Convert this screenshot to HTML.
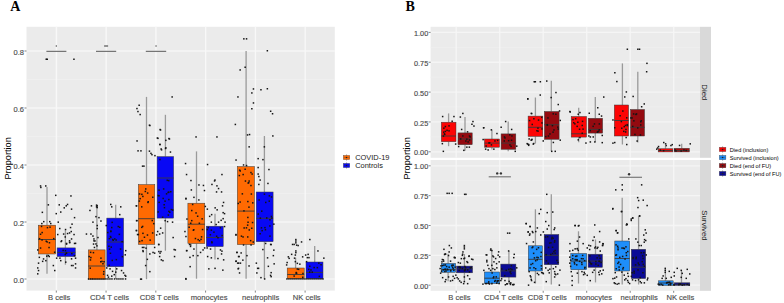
<!DOCTYPE html>
<html><head><meta charset="utf-8"><style>
html,body{margin:0;padding:0;background:#fff;width:784px;height:303px;overflow:hidden;}
svg{display:block;}
</style></head><body><svg width="784" height="303" viewBox="0 0 784 303"><rect x="26.5" y="26.8" width="308.30" height="263.80" fill="#EBEBEB"/><line x1="26.5" x2="334.8" y1="250.50" y2="250.50" stroke="#F2F2F2" stroke-width="0.6"/><line x1="26.5" x2="334.8" y1="193.50" y2="193.50" stroke="#F2F2F2" stroke-width="0.6"/><line x1="26.5" x2="334.8" y1="136.50" y2="136.50" stroke="#F2F2F2" stroke-width="0.6"/><line x1="26.5" x2="334.8" y1="79.50" y2="79.50" stroke="#F2F2F2" stroke-width="0.6"/><line x1="26.5" x2="334.8" y1="279.00" y2="279.00" stroke="#FFFFFF" stroke-width="0.8"/><line x1="26.5" x2="334.8" y1="222.00" y2="222.00" stroke="#FFFFFF" stroke-width="0.8"/><line x1="26.5" x2="334.8" y1="165.00" y2="165.00" stroke="#FFFFFF" stroke-width="0.8"/><line x1="26.5" x2="334.8" y1="108.00" y2="108.00" stroke="#FFFFFF" stroke-width="0.8"/><line x1="26.5" x2="334.8" y1="51.00" y2="51.00" stroke="#FFFFFF" stroke-width="0.8"/><line x1="56.40" x2="56.40" y1="26.8" y2="290.6" stroke="#F8F8F8" stroke-width="1.4"/><line x1="106.16" x2="106.16" y1="26.8" y2="290.6" stroke="#F8F8F8" stroke-width="1.4"/><line x1="155.92" x2="155.92" y1="26.8" y2="290.6" stroke="#F8F8F8" stroke-width="1.4"/><line x1="205.68" x2="205.68" y1="26.8" y2="290.6" stroke="#F8F8F8" stroke-width="1.4"/><line x1="255.44" x2="255.44" y1="26.8" y2="290.6" stroke="#F8F8F8" stroke-width="1.4"/><line x1="305.20" x2="305.20" y1="26.8" y2="290.6" stroke="#F8F8F8" stroke-width="1.4"/><line x1="47.00" x2="47.00" y1="186.90" y2="225.20" stroke="#9A9A9A" stroke-width="1.3"/><line x1="47.00" x2="47.00" y1="254.00" y2="273.80" stroke="#9A9A9A" stroke-width="1.3"/><rect x="38.30" y="225.20" width="17.40" height="28.80" fill="#FF6A02" stroke="#3A3A3A" stroke-width="0.5"/><line x1="38.30" x2="55.70" y1="239.50" y2="239.50" stroke="#3A3A3A" stroke-width="0.9"/><line x1="65.40" x2="65.40" y1="230.30" y2="247.90" stroke="#9A9A9A" stroke-width="1.3"/><line x1="65.40" x2="65.40" y1="256.50" y2="264.70" stroke="#9A9A9A" stroke-width="1.3"/><rect x="57.10" y="247.90" width="18.20" height="8.60" fill="#0808F4" stroke="#3A3A3A" stroke-width="0.5"/><line x1="57.10" x2="75.30" y1="252.40" y2="252.40" stroke="#3A3A3A" stroke-width="0.9"/><line x1="96.90" x2="96.90" y1="204.80" y2="249.90" stroke="#9A9A9A" stroke-width="1.3"/><rect x="88.30" y="249.90" width="16.80" height="29.30" fill="#FF6A02" stroke="#3A3A3A" stroke-width="0.5"/><line x1="88.30" x2="105.10" y1="266.00" y2="266.00" stroke="#3A3A3A" stroke-width="0.9"/><line x1="115.70" x2="115.70" y1="204.80" y2="218.10" stroke="#9A9A9A" stroke-width="1.3"/><line x1="115.70" x2="115.70" y1="266.70" y2="279.00" stroke="#9A9A9A" stroke-width="1.3"/><rect x="106.80" y="218.10" width="16.80" height="48.60" fill="#0808F4" stroke="#3A3A3A" stroke-width="0.5"/><line x1="106.80" x2="123.60" y1="242.00" y2="242.00" stroke="#3A3A3A" stroke-width="0.9"/><line x1="146.50" x2="146.50" y1="96.90" y2="184.60" stroke="#9A9A9A" stroke-width="1.3"/><line x1="146.50" x2="146.50" y1="244.40" y2="279.20" stroke="#9A9A9A" stroke-width="1.3"/><rect x="138.30" y="184.60" width="16.50" height="59.80" fill="#FF6A02" stroke="#3A3A3A" stroke-width="0.5"/><line x1="138.30" x2="154.80" y1="218.70" y2="218.70" stroke="#3A3A3A" stroke-width="0.9"/><line x1="165.40" x2="165.40" y1="114.80" y2="156.60" stroke="#9A9A9A" stroke-width="1.3"/><line x1="165.40" x2="165.40" y1="218.10" y2="250.70" stroke="#9A9A9A" stroke-width="1.3"/><rect x="157.10" y="156.60" width="16.50" height="61.50" fill="#0808F4" stroke="#3A3A3A" stroke-width="0.5"/><line x1="157.10" x2="173.60" y1="178.00" y2="178.00" stroke="#3A3A3A" stroke-width="0.9"/><line x1="196.50" x2="196.50" y1="151.40" y2="203.20" stroke="#9A9A9A" stroke-width="1.3"/><line x1="196.50" x2="196.50" y1="243.50" y2="278.70" stroke="#9A9A9A" stroke-width="1.3"/><rect x="187.90" y="203.20" width="16.90" height="40.30" fill="#FF6A02" stroke="#3A3A3A" stroke-width="0.5"/><line x1="187.90" x2="204.80" y1="224.20" y2="224.20" stroke="#3A3A3A" stroke-width="0.9"/><line x1="215.00" x2="215.00" y1="213.70" y2="226.20" stroke="#9A9A9A" stroke-width="1.3"/><line x1="215.00" x2="215.00" y1="246.60" y2="259.40" stroke="#9A9A9A" stroke-width="1.3"/><rect x="206.30" y="226.20" width="16.90" height="20.40" fill="#0808F4" stroke="#3A3A3A" stroke-width="0.5"/><line x1="206.30" x2="223.20" y1="237.50" y2="237.50" stroke="#3A3A3A" stroke-width="0.9"/><line x1="246.10" x2="246.10" y1="51.10" y2="166.60" stroke="#9A9A9A" stroke-width="1.3"/><line x1="246.10" x2="246.10" y1="244.60" y2="278.70" stroke="#9A9A9A" stroke-width="1.3"/><rect x="237.30" y="166.60" width="17.10" height="78.00" fill="#FF6A02" stroke="#3A3A3A" stroke-width="0.5"/><line x1="237.30" x2="254.40" y1="211.10" y2="211.10" stroke="#3A3A3A" stroke-width="0.9"/><line x1="264.40" x2="264.40" y1="136.00" y2="192.00" stroke="#9A9A9A" stroke-width="1.3"/><line x1="264.40" x2="264.40" y1="241.70" y2="279.10" stroke="#9A9A9A" stroke-width="1.3"/><rect x="256.20" y="192.00" width="16.90" height="49.70" fill="#0808F4" stroke="#3A3A3A" stroke-width="0.5"/><line x1="256.20" x2="273.10" y1="218.30" y2="218.30" stroke="#3A3A3A" stroke-width="0.9"/><line x1="295.60" x2="295.60" y1="257.70" y2="268.00" stroke="#9A9A9A" stroke-width="1.3"/><line x1="295.60" x2="295.60" y1="278.70" y2="279.00" stroke="#9A9A9A" stroke-width="1.3"/><rect x="287.20" y="268.00" width="17.00" height="10.70" fill="#FF6A02" stroke="#3A3A3A" stroke-width="0.5"/><line x1="287.20" x2="304.20" y1="274.50" y2="274.50" stroke="#3A3A3A" stroke-width="0.9"/><line x1="314.70" x2="314.70" y1="246.10" y2="262.00" stroke="#9A9A9A" stroke-width="1.3"/><line x1="314.70" x2="314.70" y1="278.70" y2="279.00" stroke="#9A9A9A" stroke-width="1.3"/><rect x="306.00" y="262.00" width="17.00" height="16.70" fill="#0808F4" stroke="#3A3A3A" stroke-width="0.5"/><line x1="306.00" x2="323.00" y1="272.40" y2="272.40" stroke="#3A3A3A" stroke-width="0.9"/><line x1="46.4" x2="66.4" y1="51.3" y2="51.3" stroke="#555" stroke-width="1"/><line x1="96" x2="116.2" y1="51.3" y2="51.3" stroke="#555" stroke-width="1"/><line x1="145.8" x2="166.2" y1="51.3" y2="51.3" stroke="#555" stroke-width="1"/><rect x="55.7" y="45.2" width="1.3" height="1.6" fill="#777"/><rect x="104.1" y="45.1" width="4" height="1.8" fill="#888"/><rect x="155.4" y="45.2" width="1.3" height="1.6" fill="#777"/><line x1="24.5" x2="26.5" y1="279.00" y2="279.00" stroke="#333" stroke-width="0.6"/><text x="24" y="282.60" font-size="7.5" text-anchor="end" fill="#4D4D4D" stroke="#4D4D4D" stroke-width="0.15" font-family="Liberation Sans, sans-serif">0.0</text><line x1="24.5" x2="26.5" y1="222.00" y2="222.00" stroke="#333" stroke-width="0.6"/><text x="24" y="225.60" font-size="7.5" text-anchor="end" fill="#4D4D4D" stroke="#4D4D4D" stroke-width="0.15" font-family="Liberation Sans, sans-serif">0.2</text><line x1="24.5" x2="26.5" y1="165.00" y2="165.00" stroke="#333" stroke-width="0.6"/><text x="24" y="168.60" font-size="7.5" text-anchor="end" fill="#4D4D4D" stroke="#4D4D4D" stroke-width="0.15" font-family="Liberation Sans, sans-serif">0.4</text><line x1="24.5" x2="26.5" y1="108.00" y2="108.00" stroke="#333" stroke-width="0.6"/><text x="24" y="111.60" font-size="7.5" text-anchor="end" fill="#4D4D4D" stroke="#4D4D4D" stroke-width="0.15" font-family="Liberation Sans, sans-serif">0.6</text><line x1="24.5" x2="26.5" y1="51.00" y2="51.00" stroke="#333" stroke-width="0.6"/><text x="24" y="54.60" font-size="7.5" text-anchor="end" fill="#4D4D4D" stroke="#4D4D4D" stroke-width="0.15" font-family="Liberation Sans, sans-serif">0.8</text><line x1="56.30" x2="56.30" y1="290.6" y2="292.6" stroke="#333" stroke-width="0.6"/><text x="59.15" y="299.6" font-size="7.6" text-anchor="middle" fill="#4D4D4D" stroke="#4D4D4D" stroke-width="0.15" font-family="Liberation Sans, sans-serif">B cells</text><line x1="106.06" x2="106.06" y1="290.6" y2="292.6" stroke="#333" stroke-width="0.6"/><text x="109.55" y="299.6" font-size="7.6" text-anchor="middle" fill="#4D4D4D" stroke="#4D4D4D" stroke-width="0.15" font-family="Liberation Sans, sans-serif">CD4 T cells</text><line x1="155.82" x2="155.82" y1="290.6" y2="292.6" stroke="#333" stroke-width="0.6"/><text x="159.25" y="299.6" font-size="7.6" text-anchor="middle" fill="#4D4D4D" stroke="#4D4D4D" stroke-width="0.15" font-family="Liberation Sans, sans-serif">CD8 T cells</text><line x1="205.58" x2="205.58" y1="290.6" y2="292.6" stroke="#333" stroke-width="0.6"/><text x="209.10" y="299.6" font-size="7.6" text-anchor="middle" fill="#4D4D4D" stroke="#4D4D4D" stroke-width="0.15" font-family="Liberation Sans, sans-serif">monocytes</text><line x1="255.34" x2="255.34" y1="290.6" y2="292.6" stroke="#333" stroke-width="0.6"/><text x="260.65" y="299.6" font-size="7.6" text-anchor="middle" fill="#4D4D4D" stroke="#4D4D4D" stroke-width="0.15" font-family="Liberation Sans, sans-serif">neutrophils</text><line x1="305.10" x2="305.10" y1="290.6" y2="292.6" stroke="#333" stroke-width="0.6"/><text x="306.70" y="299.6" font-size="7.6" text-anchor="middle" fill="#4D4D4D" stroke="#4D4D4D" stroke-width="0.15" font-family="Liberation Sans, sans-serif">NK cells</text><text transform="translate(11.3,158.4) rotate(-90)" font-size="9.2" text-anchor="middle" fill="#000" font-family="Liberation Sans, sans-serif">Proportion</text><line x1="346.55" x2="346.55" y1="154.40" y2="160.60" stroke="#555" stroke-width="0.5"/><rect x="343.30" y="155.40" width="6.50" height="4.20" fill="#FF6A02" stroke="#444" stroke-width="0.35"/><line x1="343.80" x2="349.30" y1="157.50" y2="157.50" stroke="#333" stroke-width="0.4" stroke-opacity="0.6"/><circle cx="346.55" cy="157.50" r="0.8" fill="#222"/><line x1="346.55" x2="346.55" y1="162.40" y2="168.60" stroke="#555" stroke-width="0.5"/><rect x="343.30" y="163.40" width="6.50" height="4.20" fill="#0808F4" stroke="#444" stroke-width="0.35"/><line x1="343.80" x2="349.30" y1="165.50" y2="165.50" stroke="#333" stroke-width="0.4" stroke-opacity="0.6"/><circle cx="346.55" cy="165.50" r="0.8" fill="#222"/><text x="355.2" y="160" font-size="7.45" fill="#1A1A1A" font-family="Liberation Sans, sans-serif">COVID-19</text><text x="355.2" y="168" font-size="7.45" fill="#1A1A1A" font-family="Liberation Sans, sans-serif">Controls</text><rect x="430.6" y="26.8" width="269.40" height="131.00" fill="#EBEBEB"/><line x1="430.6" x2="700" y1="136.88" y2="136.88" stroke="#EFEFEF" stroke-width="0.8"/><line x1="430.6" x2="700" y1="107.03" y2="107.03" stroke="#EFEFEF" stroke-width="0.8"/><line x1="430.6" x2="700" y1="77.18" y2="77.18" stroke="#EFEFEF" stroke-width="0.8"/><line x1="430.6" x2="700" y1="47.33" y2="47.33" stroke="#EFEFEF" stroke-width="0.8"/><line x1="430.6" x2="700" y1="151.80" y2="151.80" stroke="#F5F5F5" stroke-width="1.3"/><line x1="430.6" x2="700" y1="121.95" y2="121.95" stroke="#F5F5F5" stroke-width="1.3"/><line x1="430.6" x2="700" y1="92.10" y2="92.10" stroke="#F5F5F5" stroke-width="1.3"/><line x1="430.6" x2="700" y1="62.25" y2="62.25" stroke="#F5F5F5" stroke-width="1.3"/><line x1="430.6" x2="700" y1="32.40" y2="32.40" stroke="#F5F5F5" stroke-width="1.3"/><line x1="456.20" x2="456.20" y1="26.8" y2="157.8" stroke="#F6F6F6" stroke-width="1.3"/><line x1="499.70" x2="499.70" y1="26.8" y2="157.8" stroke="#F6F6F6" stroke-width="1.3"/><line x1="543.20" x2="543.20" y1="26.8" y2="157.8" stroke="#F6F6F6" stroke-width="1.3"/><line x1="586.70" x2="586.70" y1="26.8" y2="157.8" stroke="#F6F6F6" stroke-width="1.3"/><line x1="630.20" x2="630.20" y1="26.8" y2="157.8" stroke="#F6F6F6" stroke-width="1.3"/><line x1="673.70" x2="673.70" y1="26.8" y2="157.8" stroke="#F6F6F6" stroke-width="1.3"/><rect x="700" y="26.8" width="11" height="131.00" fill="#D9D9D9"/><line x1="428.6" x2="430.6" y1="151.80" y2="151.80" stroke="#333" stroke-width="0.6"/><text x="428.20000000000005" y="155.40" font-size="7.3" text-anchor="end" fill="#4D4D4D" stroke="#4D4D4D" stroke-width="0.15" font-family="Liberation Sans, sans-serif">0.00</text><line x1="428.6" x2="430.6" y1="121.95" y2="121.95" stroke="#333" stroke-width="0.6"/><text x="428.20000000000005" y="125.55" font-size="7.3" text-anchor="end" fill="#4D4D4D" stroke="#4D4D4D" stroke-width="0.15" font-family="Liberation Sans, sans-serif">0.25</text><line x1="428.6" x2="430.6" y1="92.10" y2="92.10" stroke="#333" stroke-width="0.6"/><text x="428.20000000000005" y="95.70" font-size="7.3" text-anchor="end" fill="#4D4D4D" stroke="#4D4D4D" stroke-width="0.15" font-family="Liberation Sans, sans-serif">0.50</text><line x1="428.6" x2="430.6" y1="62.25" y2="62.25" stroke="#333" stroke-width="0.6"/><text x="428.20000000000005" y="65.85" font-size="7.3" text-anchor="end" fill="#4D4D4D" stroke="#4D4D4D" stroke-width="0.15" font-family="Liberation Sans, sans-serif">0.75</text><line x1="428.6" x2="430.6" y1="32.40" y2="32.40" stroke="#333" stroke-width="0.6"/><text x="428.20000000000005" y="36.00" font-size="7.3" text-anchor="end" fill="#4D4D4D" stroke="#4D4D4D" stroke-width="0.15" font-family="Liberation Sans, sans-serif">1.00</text><rect x="430.6" y="160.0" width="269.40" height="130.80" fill="#EBEBEB"/><line x1="430.6" x2="700" y1="270.27" y2="270.27" stroke="#EFEFEF" stroke-width="0.8"/><line x1="430.6" x2="700" y1="240.42" y2="240.42" stroke="#EFEFEF" stroke-width="0.8"/><line x1="430.6" x2="700" y1="210.57" y2="210.57" stroke="#EFEFEF" stroke-width="0.8"/><line x1="430.6" x2="700" y1="180.72" y2="180.72" stroke="#EFEFEF" stroke-width="0.8"/><line x1="430.6" x2="700" y1="285.20" y2="285.20" stroke="#F5F5F5" stroke-width="1.3"/><line x1="430.6" x2="700" y1="255.35" y2="255.35" stroke="#F5F5F5" stroke-width="1.3"/><line x1="430.6" x2="700" y1="225.50" y2="225.50" stroke="#F5F5F5" stroke-width="1.3"/><line x1="430.6" x2="700" y1="195.65" y2="195.65" stroke="#F5F5F5" stroke-width="1.3"/><line x1="430.6" x2="700" y1="165.80" y2="165.80" stroke="#F5F5F5" stroke-width="1.3"/><line x1="456.20" x2="456.20" y1="160.0" y2="290.8" stroke="#F6F6F6" stroke-width="1.3"/><line x1="499.70" x2="499.70" y1="160.0" y2="290.8" stroke="#F6F6F6" stroke-width="1.3"/><line x1="543.20" x2="543.20" y1="160.0" y2="290.8" stroke="#F6F6F6" stroke-width="1.3"/><line x1="586.70" x2="586.70" y1="160.0" y2="290.8" stroke="#F6F6F6" stroke-width="1.3"/><line x1="630.20" x2="630.20" y1="160.0" y2="290.8" stroke="#F6F6F6" stroke-width="1.3"/><line x1="673.70" x2="673.70" y1="160.0" y2="290.8" stroke="#F6F6F6" stroke-width="1.3"/><rect x="700" y="160.0" width="11" height="130.80" fill="#D9D9D9"/><line x1="428.6" x2="430.6" y1="285.20" y2="285.20" stroke="#333" stroke-width="0.6"/><text x="428.20000000000005" y="288.80" font-size="7.3" text-anchor="end" fill="#4D4D4D" stroke="#4D4D4D" stroke-width="0.15" font-family="Liberation Sans, sans-serif">0.00</text><line x1="428.6" x2="430.6" y1="255.35" y2="255.35" stroke="#333" stroke-width="0.6"/><text x="428.20000000000005" y="258.95" font-size="7.3" text-anchor="end" fill="#4D4D4D" stroke="#4D4D4D" stroke-width="0.15" font-family="Liberation Sans, sans-serif">0.25</text><line x1="428.6" x2="430.6" y1="225.50" y2="225.50" stroke="#333" stroke-width="0.6"/><text x="428.20000000000005" y="229.10" font-size="7.3" text-anchor="end" fill="#4D4D4D" stroke="#4D4D4D" stroke-width="0.15" font-family="Liberation Sans, sans-serif">0.50</text><line x1="428.6" x2="430.6" y1="195.65" y2="195.65" stroke="#333" stroke-width="0.6"/><text x="428.20000000000005" y="199.25" font-size="7.3" text-anchor="end" fill="#4D4D4D" stroke="#4D4D4D" stroke-width="0.15" font-family="Liberation Sans, sans-serif">0.75</text><line x1="428.6" x2="430.6" y1="165.80" y2="165.80" stroke="#333" stroke-width="0.6"/><text x="428.20000000000005" y="169.40" font-size="7.3" text-anchor="end" fill="#4D4D4D" stroke="#4D4D4D" stroke-width="0.15" font-family="Liberation Sans, sans-serif">1.00</text><text transform="translate(702.3,92.3) rotate(90)" font-size="7.8" text-anchor="middle" fill="#1A1A1A" font-family="Liberation Sans, sans-serif">Died</text><text transform="translate(702.3,225.5) rotate(90)" font-size="7.8" text-anchor="middle" fill="#1A1A1A" font-family="Liberation Sans, sans-serif">Survived</text><line x1="448.60" x2="448.60" y1="113.40" y2="122.20" stroke="#9A9A9A" stroke-width="1.3"/><line x1="448.60" x2="448.60" y1="141.70" y2="146.20" stroke="#9A9A9A" stroke-width="1.3"/><rect x="441.30" y="122.20" width="14.70" height="19.50" fill="#FC0505" stroke="#3A3A3A" stroke-width="0.5"/><line x1="441.30" x2="456.00" y1="136.00" y2="136.00" stroke="#3A3A3A" stroke-width="0.9"/><line x1="465.00" x2="465.00" y1="117.10" y2="132.90" stroke="#9A9A9A" stroke-width="1.3"/><line x1="465.00" x2="465.00" y1="144.70" y2="150.70" stroke="#9A9A9A" stroke-width="1.3"/><rect x="458.00" y="132.90" width="14.20" height="11.80" fill="#940A10" stroke="#3A3A3A" stroke-width="0.5"/><line x1="458.00" x2="472.20" y1="139.00" y2="139.00" stroke="#3A3A3A" stroke-width="0.9"/><line x1="448.10" x2="448.10" y1="253.70" y2="263.40" stroke="#9A9A9A" stroke-width="1.3"/><line x1="448.10" x2="448.10" y1="272.30" y2="281.30" stroke="#9A9A9A" stroke-width="1.3"/><rect x="441.30" y="263.40" width="14.30" height="8.90" fill="#1E8EFA" stroke="#3A3A3A" stroke-width="0.5"/><line x1="441.30" x2="455.60" y1="269.40" y2="269.40" stroke="#3A3A3A" stroke-width="0.9"/><line x1="464.40" x2="464.40" y1="254.00" y2="266.10" stroke="#9A9A9A" stroke-width="1.3"/><line x1="464.40" x2="464.40" y1="272.80" y2="282.00" stroke="#9A9A9A" stroke-width="1.3"/><rect x="456.60" y="266.10" width="15.90" height="6.70" fill="#0A0A96" stroke="#3A3A3A" stroke-width="0.5"/><line x1="456.60" x2="472.50" y1="268.90" y2="268.90" stroke="#3A3A3A" stroke-width="0.9"/><line x1="491.90" x2="491.90" y1="129.80" y2="139.00" stroke="#9A9A9A" stroke-width="1.3"/><line x1="491.90" x2="491.90" y1="147.20" y2="149.50" stroke="#9A9A9A" stroke-width="1.3"/><rect x="484.50" y="139.00" width="14.90" height="8.20" fill="#FC0505" stroke="#3A3A3A" stroke-width="0.5"/><line x1="484.50" x2="499.40" y1="143.10" y2="143.10" stroke="#3A3A3A" stroke-width="0.9"/><line x1="508.20" x2="508.20" y1="121.60" y2="133.90" stroke="#9A9A9A" stroke-width="1.3"/><line x1="508.20" x2="508.20" y1="149.30" y2="151.30" stroke="#9A9A9A" stroke-width="1.3"/><rect x="501.10" y="133.90" width="14.70" height="15.40" fill="#940A10" stroke="#3A3A3A" stroke-width="0.5"/><line x1="501.10" x2="515.80" y1="143.10" y2="143.10" stroke="#3A3A3A" stroke-width="0.9"/><line x1="491.80" x2="491.80" y1="250.10" y2="272.00" stroke="#9A9A9A" stroke-width="1.3"/><line x1="491.80" x2="491.80" y1="283.50" y2="285.00" stroke="#9A9A9A" stroke-width="1.3"/><rect x="484.40" y="272.00" width="15.20" height="11.50" fill="#1E8EFA" stroke="#3A3A3A" stroke-width="0.5"/><line x1="484.40" x2="499.60" y1="278.20" y2="278.20" stroke="#3A3A3A" stroke-width="0.9"/><line x1="508.90" x2="508.90" y1="251.00" y2="264.10" stroke="#9A9A9A" stroke-width="1.3"/><line x1="508.90" x2="508.90" y1="277.10" y2="284.20" stroke="#9A9A9A" stroke-width="1.3"/><rect x="500.80" y="264.10" width="15.10" height="13.00" fill="#0A0A96" stroke="#3A3A3A" stroke-width="0.5"/><line x1="500.80" x2="515.90" y1="270.90" y2="270.90" stroke="#3A3A3A" stroke-width="0.9"/><line x1="535.40" x2="535.40" y1="97.50" y2="116.10" stroke="#9A9A9A" stroke-width="1.3"/><line x1="535.40" x2="535.40" y1="136.40" y2="143.60" stroke="#9A9A9A" stroke-width="1.3"/><rect x="528.10" y="116.10" width="14.70" height="20.30" fill="#FC0505" stroke="#3A3A3A" stroke-width="0.5"/><line x1="528.10" x2="542.80" y1="127.30" y2="127.30" stroke="#3A3A3A" stroke-width="0.9"/><line x1="551.30" x2="551.30" y1="80.70" y2="111.50" stroke="#9A9A9A" stroke-width="1.3"/><line x1="551.30" x2="551.30" y1="139.30" y2="151.30" stroke="#9A9A9A" stroke-width="1.3"/><rect x="544.40" y="111.50" width="14.70" height="27.80" fill="#940A10" stroke="#3A3A3A" stroke-width="0.5"/><line x1="544.40" x2="559.10" y1="124.70" y2="124.70" stroke="#3A3A3A" stroke-width="0.9"/><line x1="535.40" x2="535.40" y1="209.30" y2="245.80" stroke="#9A9A9A" stroke-width="1.3"/><line x1="535.40" x2="535.40" y1="271.00" y2="283.50" stroke="#9A9A9A" stroke-width="1.3"/><rect x="528.30" y="245.80" width="14.10" height="25.20" fill="#1E8EFA" stroke="#3A3A3A" stroke-width="0.5"/><line x1="528.30" x2="542.40" y1="259.30" y2="259.30" stroke="#3A3A3A" stroke-width="0.9"/><line x1="551.30" x2="551.30" y1="194.30" y2="234.50" stroke="#9A9A9A" stroke-width="1.3"/><line x1="551.30" x2="551.30" y1="264.70" y2="284.50" stroke="#9A9A9A" stroke-width="1.3"/><rect x="544.20" y="234.50" width="14.60" height="30.20" fill="#0A0A96" stroke="#3A3A3A" stroke-width="0.5"/><line x1="544.20" x2="558.80" y1="255.30" y2="255.30" stroke="#3A3A3A" stroke-width="0.9"/><line x1="578.70" x2="578.70" y1="107.70" y2="116.50" stroke="#9A9A9A" stroke-width="1.3"/><line x1="578.70" x2="578.70" y1="137.10" y2="142.30" stroke="#9A9A9A" stroke-width="1.3"/><rect x="571.20" y="116.50" width="15.30" height="20.60" fill="#FC0505" stroke="#3A3A3A" stroke-width="0.5"/><line x1="571.20" x2="586.50" y1="133.80" y2="133.80" stroke="#3A3A3A" stroke-width="0.9"/><line x1="595.30" x2="595.30" y1="97.10" y2="118.30" stroke="#9A9A9A" stroke-width="1.3"/><line x1="595.30" x2="595.30" y1="133.10" y2="142.00" stroke="#9A9A9A" stroke-width="1.3"/><rect x="588.20" y="118.30" width="14.40" height="14.80" fill="#940A10" stroke="#3A3A3A" stroke-width="0.5"/><line x1="588.20" x2="602.60" y1="129.40" y2="129.40" stroke="#3A3A3A" stroke-width="0.9"/><line x1="578.50" x2="578.50" y1="231.30" y2="253.50" stroke="#9A9A9A" stroke-width="1.3"/><line x1="578.50" x2="578.50" y1="269.70" y2="283.50" stroke="#9A9A9A" stroke-width="1.3"/><rect x="570.80" y="253.50" width="15.90" height="16.20" fill="#1E8EFA" stroke="#3A3A3A" stroke-width="0.5"/><line x1="570.80" x2="586.70" y1="261.10" y2="261.10" stroke="#3A3A3A" stroke-width="0.9"/><line x1="595.50" x2="595.50" y1="239.50" y2="254.20" stroke="#9A9A9A" stroke-width="1.3"/><line x1="595.50" x2="595.50" y1="267.30" y2="282.40" stroke="#9A9A9A" stroke-width="1.3"/><rect x="588.10" y="254.20" width="14.30" height="13.10" fill="#0A0A96" stroke="#3A3A3A" stroke-width="0.5"/><line x1="588.10" x2="602.40" y1="261.10" y2="261.10" stroke="#3A3A3A" stroke-width="0.9"/><line x1="622.40" x2="622.40" y1="63.40" y2="105.00" stroke="#9A9A9A" stroke-width="1.3"/><line x1="622.40" x2="622.40" y1="136.00" y2="144.50" stroke="#9A9A9A" stroke-width="1.3"/><rect x="614.30" y="105.00" width="14.30" height="31.00" fill="#FC0505" stroke="#3A3A3A" stroke-width="0.5"/><line x1="614.30" x2="628.60" y1="120.50" y2="120.50" stroke="#3A3A3A" stroke-width="0.9"/><line x1="637.80" x2="637.80" y1="71.70" y2="109.50" stroke="#9A9A9A" stroke-width="1.3"/><line x1="637.80" x2="637.80" y1="136.00" y2="142.50" stroke="#9A9A9A" stroke-width="1.3"/><rect x="630.50" y="109.50" width="14.00" height="26.50" fill="#940A10" stroke="#3A3A3A" stroke-width="0.5"/><line x1="630.50" x2="644.50" y1="127.30" y2="127.30" stroke="#3A3A3A" stroke-width="0.9"/><line x1="622.20" x2="622.20" y1="197.70" y2="241.00" stroke="#9A9A9A" stroke-width="1.3"/><line x1="622.20" x2="622.20" y1="271.00" y2="284.50" stroke="#9A9A9A" stroke-width="1.3"/><rect x="614.80" y="241.00" width="14.90" height="30.00" fill="#1E8EFA" stroke="#3A3A3A" stroke-width="0.5"/><line x1="614.80" x2="629.70" y1="258.50" y2="258.50" stroke="#3A3A3A" stroke-width="0.9"/><line x1="638.60" x2="638.60" y1="216.10" y2="249.30" stroke="#9A9A9A" stroke-width="1.3"/><line x1="638.60" x2="638.60" y1="278.50" y2="284.50" stroke="#9A9A9A" stroke-width="1.3"/><rect x="631.30" y="249.30" width="14.40" height="29.20" fill="#0A0A96" stroke="#3A3A3A" stroke-width="0.5"/><line x1="631.30" x2="645.70" y1="267.20" y2="267.20" stroke="#3A3A3A" stroke-width="0.9"/><line x1="665.50" x2="665.50" y1="146.00" y2="148.75" stroke="#9A9A9A" stroke-width="1.3"/><rect x="658.20" y="148.75" width="14.60" height="3.15" fill="#FC0505" stroke="#3A3A3A" stroke-width="0.5"/><line x1="658.20" x2="672.80" y1="150.50" y2="150.50" stroke="#3A3A3A" stroke-width="0.9"/><line x1="681.70" x2="681.70" y1="143.80" y2="148.30" stroke="#9A9A9A" stroke-width="1.3"/><rect x="674.10" y="148.30" width="15.20" height="3.60" fill="#A80808" stroke="#3A3A3A" stroke-width="0.5"/><line x1="674.10" x2="689.30" y1="150.50" y2="150.50" stroke="#3A3A3A" stroke-width="0.9"/><line x1="665.40" x2="665.40" y1="268.50" y2="280.80" stroke="#9A9A9A" stroke-width="1.3"/><rect x="658.50" y="280.80" width="14.70" height="4.60" fill="#1E8EFA" stroke="#3A3A3A" stroke-width="0.5"/><line x1="658.50" x2="673.20" y1="283.00" y2="283.00" stroke="#3A3A3A" stroke-width="0.9"/><line x1="681.50" x2="681.50" y1="270.00" y2="282.80" stroke="#9A9A9A" stroke-width="1.3"/><rect x="674.20" y="282.80" width="15.60" height="2.60" fill="#0A0A96" stroke="#3A3A3A" stroke-width="0.5"/><line x1="674.20" x2="689.80" y1="284.20" y2="284.20" stroke="#3A3A3A" stroke-width="0.9"/><line x1="488.7" x2="510.9" y1="176.8" y2="176.8" stroke="#7A7A7A" stroke-width="1.2"/><line x1="619.4" x2="642" y1="177.3" y2="177.3" stroke="#7A7A7A" stroke-width="1.2"/><circle cx="497.2" cy="173.4" r="1.2" fill="#333"/><circle cx="500.9" cy="173.4" r="1.2" fill="#333"/><circle cx="629.1" cy="174.3" r="1.2" fill="#333"/><line x1="456.20" x2="456.20" y1="290.8" y2="292.8" stroke="#333" stroke-width="0.6"/><text x="459.40" y="299.6" font-size="7.6" text-anchor="middle" fill="#4D4D4D" stroke="#4D4D4D" stroke-width="0.15" font-family="Liberation Sans, sans-serif">B cells</text><line x1="499.70" x2="499.70" y1="290.8" y2="292.8" stroke="#333" stroke-width="0.6"/><text x="503.60" y="299.6" font-size="7.6" text-anchor="middle" fill="#4D4D4D" stroke="#4D4D4D" stroke-width="0.15" font-family="Liberation Sans, sans-serif">CD4 T cells</text><line x1="543.20" x2="543.20" y1="290.8" y2="292.8" stroke="#333" stroke-width="0.6"/><text x="547.25" y="299.6" font-size="7.6" text-anchor="middle" fill="#4D4D4D" stroke="#4D4D4D" stroke-width="0.15" font-family="Liberation Sans, sans-serif">CD8 T cells</text><line x1="586.70" x2="586.70" y1="290.8" y2="292.8" stroke="#333" stroke-width="0.6"/><text x="593.75" y="299.6" font-size="7.6" text-anchor="middle" fill="#4D4D4D" stroke="#4D4D4D" stroke-width="0.15" font-family="Liberation Sans, sans-serif">monocytes</text><line x1="630.20" x2="630.20" y1="290.8" y2="292.8" stroke="#333" stroke-width="0.6"/><text x="639.20" y="299.6" font-size="7.6" text-anchor="middle" fill="#4D4D4D" stroke="#4D4D4D" stroke-width="0.15" font-family="Liberation Sans, sans-serif">neutrophils</text><line x1="673.70" x2="673.70" y1="290.8" y2="292.8" stroke="#333" stroke-width="0.6"/><text x="680.35" y="299.6" font-size="7.6" text-anchor="middle" fill="#4D4D4D" stroke="#4D4D4D" stroke-width="0.15" font-family="Liberation Sans, sans-serif">NK cells</text><text transform="translate(410.1,158.4) rotate(-90)" font-size="9.2" text-anchor="middle" fill="#000" font-family="Liberation Sans, sans-serif">Proportion</text><line x1="722.60" x2="722.60" y1="146.30" y2="152.60" stroke="#555" stroke-width="0.5"/><rect x="719.30" y="147.30" width="6.60" height="4.30" fill="#FC0505" stroke="#444" stroke-width="0.35"/><line x1="719.80" x2="725.40" y1="149.45" y2="149.45" stroke="#333" stroke-width="0.4" stroke-opacity="0.6"/><circle cx="722.60" cy="149.45" r="0.8" fill="#222"/><text x="729.8" y="151.70" font-size="5.6" fill="#000" font-family="Liberation Sans, sans-serif">Died (inclusion)</text><line x1="722.60" x2="722.60" y1="154.40" y2="160.70" stroke="#555" stroke-width="0.5"/><rect x="719.30" y="155.40" width="6.60" height="4.30" fill="#1E8EFA" stroke="#444" stroke-width="0.35"/><line x1="719.80" x2="725.40" y1="157.55" y2="157.55" stroke="#333" stroke-width="0.4" stroke-opacity="0.6"/><circle cx="722.60" cy="157.55" r="0.8" fill="#222"/><text x="729.8" y="159.80" font-size="5.6" fill="#000" font-family="Liberation Sans, sans-serif">Survived (inclusion)</text><line x1="722.60" x2="722.60" y1="162.50" y2="168.80" stroke="#555" stroke-width="0.5"/><rect x="719.30" y="163.50" width="6.60" height="4.30" fill="#940A10" stroke="#444" stroke-width="0.35"/><line x1="719.80" x2="725.40" y1="165.65" y2="165.65" stroke="#333" stroke-width="0.4" stroke-opacity="0.6"/><circle cx="722.60" cy="165.65" r="0.8" fill="#222"/><text x="729.8" y="167.90" font-size="5.6" fill="#000" font-family="Liberation Sans, sans-serif">Died (end of FU)</text><line x1="722.60" x2="722.60" y1="170.40" y2="176.70" stroke="#555" stroke-width="0.5"/><rect x="719.30" y="171.40" width="6.60" height="4.30" fill="#0A0A96" stroke="#444" stroke-width="0.35"/><line x1="719.80" x2="725.40" y1="173.55" y2="173.55" stroke="#333" stroke-width="0.4" stroke-opacity="0.6"/><circle cx="722.60" cy="173.55" r="0.8" fill="#222"/><text x="729.8" y="175.80" font-size="5.6" fill="#000" font-family="Liberation Sans, sans-serif">Survived (end of FU)</text><g fill="#151515"><rect x="46.5" y="58.5" width="1.5" height="1.5"/><rect x="45.5" y="58.5" width="1.5" height="1.5"/><rect x="73.2" y="58.5" width="1.5" height="1.5"/><rect x="138.4" y="104.5" width="1.5" height="1.5"/><rect x="136.2" y="107.8" width="1.5" height="1.5"/><rect x="137.2" y="110.8" width="1.5" height="1.5"/><rect x="139.4" y="113.8" width="1.5" height="1.5"/><rect x="171.4" y="96.2" width="1.5" height="1.5"/><rect x="148.7" y="124.5" width="1.5" height="1.5"/><rect x="149.1" y="124.8" width="1.5" height="1.5"/><rect x="159.4" y="128.8" width="1.5" height="1.5"/><rect x="156.6" y="137.3" width="1.5" height="1.5"/><rect x="168.2" y="137.8" width="1.5" height="1.5"/><rect x="159.2" y="143.8" width="1.5" height="1.5"/><rect x="164.8" y="147.7" width="1.5" height="1.5"/><rect x="160.4" y="148.2" width="1.5" height="1.5"/><rect x="243.1" y="38.1" width="1.5" height="1.5"/><rect x="245.8" y="38.1" width="1.5" height="1.5"/><rect x="266.6" y="50.0" width="1.5" height="1.5"/><rect x="239.4" y="69.2" width="1.5" height="1.5"/><rect x="244.4" y="66.5" width="1.5" height="1.5"/><rect x="252.7" y="88.2" width="1.5" height="1.5"/><rect x="260.2" y="89.0" width="1.5" height="1.5"/><rect x="266.6" y="88.0" width="1.5" height="1.5"/><rect x="251.1" y="92.2" width="1.5" height="1.5"/><rect x="237.2" y="96.2" width="1.5" height="1.5"/><rect x="252.7" y="102.2" width="1.5" height="1.5"/><rect x="251.1" y="108.0" width="1.5" height="1.5"/><rect x="269.9" y="110.5" width="1.5" height="1.5"/><rect x="271.8" y="113.0" width="1.5" height="1.5"/><rect x="234.6" y="123.7" width="1.5" height="1.5"/><rect x="39.8" y="185.2" width="1.5" height="1.5"/><rect x="45.0" y="185.2" width="1.5" height="1.5"/><rect x="136.3" y="140.2" width="1.5" height="1.5"/><rect x="137.3" y="150.1" width="1.5" height="1.5"/><rect x="140.2" y="150.1" width="1.5" height="1.5"/><rect x="141.8" y="165.4" width="1.5" height="1.5"/><rect x="143.2" y="165.4" width="1.5" height="1.5"/><rect x="159.8" y="129.2" width="1.5" height="1.5"/><rect x="157.2" y="137.6" width="1.5" height="1.5"/><rect x="165.1" y="139.6" width="1.5" height="1.5"/><rect x="168.7" y="138.2" width="1.5" height="1.5"/><rect x="159.2" y="143.7" width="1.5" height="1.5"/><rect x="165.1" y="147.1" width="1.5" height="1.5"/><rect x="160.8" y="149.1" width="1.5" height="1.5"/><rect x="169.7" y="151.3" width="1.5" height="1.5"/><rect x="148.7" y="150.4" width="1.5" height="1.5"/><rect x="150.2" y="152.6" width="1.5" height="1.5"/><rect x="151.2" y="153.9" width="1.5" height="1.5"/><rect x="154.2" y="154.9" width="1.5" height="1.5"/><rect x="195.3" y="136.2" width="1.5" height="1.5"/><rect x="184.8" y="162.8" width="1.5" height="1.5"/><rect x="185.8" y="173.8" width="1.5" height="1.5"/><rect x="190.2" y="179.8" width="1.5" height="1.5"/><rect x="198.2" y="184.2" width="1.5" height="1.5"/><rect x="202.7" y="184.7" width="1.5" height="1.5"/><rect x="216.2" y="136.2" width="1.5" height="1.5"/><rect x="246.8" y="134.2" width="1.5" height="1.5"/><rect x="248.8" y="133.8" width="1.5" height="1.5"/><rect x="248.4" y="146.1" width="1.5" height="1.5"/><rect x="235.3" y="159.3" width="1.5" height="1.5"/><rect x="206.8" y="163.8" width="1.5" height="1.5"/><rect x="242.8" y="164.2" width="1.5" height="1.5"/><rect x="245.8" y="164.8" width="1.5" height="1.5"/><rect x="221.2" y="173.8" width="1.5" height="1.5"/><rect x="214.2" y="179.3" width="1.5" height="1.5"/><rect x="213.8" y="180.2" width="1.5" height="1.5"/><rect x="211.2" y="183.7" width="1.5" height="1.5"/><rect x="216.2" y="185.1" width="1.5" height="1.5"/><rect x="257.4" y="157.9" width="1.5" height="1.5"/><rect x="262.2" y="158.9" width="1.5" height="1.5"/><rect x="263.6" y="146.1" width="1.5" height="1.5"/><rect x="257.4" y="166.8" width="1.5" height="1.5"/><rect x="257.4" y="173.3" width="1.5" height="1.5"/><rect x="258.1" y="175.8" width="1.5" height="1.5"/><rect x="259.4" y="179.3" width="1.5" height="1.5"/><rect x="258.1" y="183.7" width="1.5" height="1.5"/><rect x="238.9" y="169.4" width="1.5" height="1.5"/><rect x="250.2" y="171.8" width="1.5" height="1.5"/><rect x="242.4" y="173.8" width="1.5" height="1.5"/><rect x="238.6" y="174.8" width="1.5" height="1.5"/><rect x="272.1" y="135.2" width="1.5" height="1.5"/><rect x="268.2" y="168.8" width="1.5" height="1.5"/><rect x="267.2" y="182.7" width="1.5" height="1.5"/><rect x="40.1" y="186.7" width="1.5" height="1.5"/><rect x="55.0" y="194.6" width="1.5" height="1.5"/><rect x="70.2" y="195.2" width="1.5" height="1.5"/><rect x="47.6" y="204.1" width="1.5" height="1.5"/><rect x="58.5" y="204.1" width="1.5" height="1.5"/><rect x="66.8" y="203.7" width="1.5" height="1.5"/><rect x="65.5" y="205.1" width="1.5" height="1.5"/><rect x="63.5" y="207.1" width="1.5" height="1.5"/><rect x="70.8" y="208.4" width="1.5" height="1.5"/><rect x="60.0" y="211.3" width="1.5" height="1.5"/><rect x="55.5" y="212.9" width="1.5" height="1.5"/><rect x="41.6" y="211.6" width="1.5" height="1.5"/><rect x="73.8" y="216.9" width="1.5" height="1.5"/><rect x="57.5" y="221.4" width="1.5" height="1.5"/><rect x="71.3" y="223.4" width="1.5" height="1.5"/><rect x="41.1" y="222.8" width="1.5" height="1.5"/><rect x="43.0" y="220.9" width="1.5" height="1.5"/><rect x="49.0" y="220.9" width="1.5" height="1.5"/><rect x="50.0" y="222.8" width="1.5" height="1.5"/><rect x="59.0" y="227.8" width="1.5" height="1.5"/><rect x="64.8" y="228.8" width="1.5" height="1.5"/><rect x="69.8" y="226.8" width="1.5" height="1.5"/><rect x="70.5" y="230.8" width="1.5" height="1.5"/><rect x="68.8" y="232.2" width="1.5" height="1.5"/><rect x="62.9" y="233.3" width="1.5" height="1.5"/><rect x="66.8" y="232.8" width="1.5" height="1.5"/><rect x="73.3" y="233.8" width="1.5" height="1.5"/><rect x="57.0" y="233.8" width="1.5" height="1.5"/><rect x="85.7" y="233.3" width="1.5" height="1.5"/><rect x="64.5" y="236.2" width="1.5" height="1.5"/><rect x="70.8" y="238.2" width="1.5" height="1.5"/><rect x="60.4" y="240.8" width="1.5" height="1.5"/><rect x="65.8" y="242.7" width="1.5" height="1.5"/><rect x="68.8" y="241.7" width="1.5" height="1.5"/><rect x="73.8" y="242.7" width="1.5" height="1.5"/><rect x="37.0" y="249.2" width="1.5" height="1.5"/><rect x="38.6" y="256.6" width="1.5" height="1.5"/><rect x="42.8" y="258.2" width="1.5" height="1.5"/><rect x="46.0" y="255.4" width="1.5" height="1.5"/><rect x="47.6" y="254.8" width="1.5" height="1.5"/><rect x="48.5" y="255.8" width="1.5" height="1.5"/><rect x="41.9" y="260.6" width="1.5" height="1.5"/><rect x="37.8" y="262.4" width="1.5" height="1.5"/><rect x="37.0" y="267.2" width="1.5" height="1.5"/><rect x="37.8" y="269.8" width="1.5" height="1.5"/><rect x="37.0" y="273.1" width="1.5" height="1.5"/><rect x="45.1" y="259.9" width="1.5" height="1.5"/><rect x="52.6" y="264.8" width="1.5" height="1.5"/><rect x="54.0" y="269.8" width="1.5" height="1.5"/><rect x="55.9" y="257.4" width="1.5" height="1.5"/><rect x="59.2" y="257.4" width="1.5" height="1.5"/><rect x="60.0" y="259.9" width="1.5" height="1.5"/><rect x="70.8" y="258.1" width="1.5" height="1.5"/><rect x="74.8" y="257.4" width="1.5" height="1.5"/><rect x="74.8" y="263.1" width="1.5" height="1.5"/><rect x="70.8" y="264.8" width="1.5" height="1.5"/><rect x="72.3" y="264.8" width="1.5" height="1.5"/><rect x="74.8" y="267.2" width="1.5" height="1.5"/><rect x="60.9" y="240.1" width="1.5" height="1.5"/><rect x="68.8" y="240.1" width="1.5" height="1.5"/><rect x="69.0" y="241.8" width="1.5" height="1.5"/><rect x="65.8" y="243.3" width="1.5" height="1.5"/><rect x="74.8" y="242.6" width="1.5" height="1.5"/><rect x="65.0" y="261.4" width="1.5" height="1.5"/><rect x="95.8" y="204.4" width="1.5" height="1.5"/><rect x="95.8" y="206.1" width="1.5" height="1.5"/><rect x="96.5" y="205.1" width="1.5" height="1.5"/><rect x="96.5" y="206.8" width="1.5" height="1.5"/><rect x="90.7" y="205.1" width="1.5" height="1.5"/><rect x="89.2" y="209.7" width="1.5" height="1.5"/><rect x="95.2" y="215.9" width="1.5" height="1.5"/><rect x="98.2" y="216.9" width="1.5" height="1.5"/><rect x="100.2" y="220.3" width="1.5" height="1.5"/><rect x="92.2" y="221.4" width="1.5" height="1.5"/><rect x="96.5" y="224.8" width="1.5" height="1.5"/><rect x="96.5" y="227.8" width="1.5" height="1.5"/><rect x="90.2" y="233.3" width="1.5" height="1.5"/><rect x="92.2" y="235.3" width="1.5" height="1.5"/><rect x="93.2" y="238.2" width="1.5" height="1.5"/><rect x="94.2" y="240.2" width="1.5" height="1.5"/><rect x="97.2" y="236.8" width="1.5" height="1.5"/><rect x="95.2" y="243.2" width="1.5" height="1.5"/><rect x="110.0" y="203.7" width="1.5" height="1.5"/><rect x="111.0" y="206.1" width="1.5" height="1.5"/><rect x="120.0" y="206.1" width="1.5" height="1.5"/><rect x="119.0" y="213.9" width="1.5" height="1.5"/><rect x="105.5" y="224.8" width="1.5" height="1.5"/><rect x="107.0" y="231.8" width="1.5" height="1.5"/><rect x="111.0" y="226.8" width="1.5" height="1.5"/><rect x="117.5" y="225.8" width="1.5" height="1.5"/><rect x="112.0" y="238.8" width="1.5" height="1.5"/><rect x="114.0" y="238.2" width="1.5" height="1.5"/><rect x="109.7" y="235.8" width="1.5" height="1.5"/><rect x="135.8" y="205.1" width="1.5" height="1.5"/><rect x="135.8" y="219.9" width="1.5" height="1.5"/><rect x="135.8" y="229.8" width="1.5" height="1.5"/><rect x="136.8" y="233.8" width="1.5" height="1.5"/><rect x="138.8" y="193.2" width="1.5" height="1.5"/><rect x="92.8" y="243.3" width="1.5" height="1.5"/><rect x="93.7" y="246.7" width="1.5" height="1.5"/><rect x="96.2" y="245.1" width="1.5" height="1.5"/><rect x="93.2" y="240.1" width="1.5" height="1.5"/><rect x="106.0" y="267.2" width="1.5" height="1.5"/><rect x="109.3" y="268.1" width="1.5" height="1.5"/><rect x="111.8" y="270.6" width="1.5" height="1.5"/><rect x="116.0" y="268.1" width="1.5" height="1.5"/><rect x="115.0" y="271.4" width="1.5" height="1.5"/><rect x="113.5" y="273.9" width="1.5" height="1.5"/><rect x="111.0" y="275.4" width="1.5" height="1.5"/><rect x="120.8" y="269.8" width="1.5" height="1.5"/><rect x="122.8" y="272.2" width="1.5" height="1.5"/><rect x="124.2" y="274.6" width="1.5" height="1.5"/><rect x="125.0" y="249.9" width="1.5" height="1.5"/><rect x="124.5" y="254.1" width="1.5" height="1.5"/><rect x="125.0" y="275.4" width="1.5" height="1.5"/><rect x="106.8" y="274.6" width="1.5" height="1.5"/><rect x="107.7" y="276.4" width="1.5" height="1.5"/><rect x="140.7" y="278.4" width="1.5" height="1.5"/><rect x="143.1" y="246.7" width="1.5" height="1.5"/><rect x="142.2" y="249.9" width="1.5" height="1.5"/><rect x="135.6" y="205.1" width="1.5" height="1.5"/><rect x="136.2" y="219.9" width="1.5" height="1.5"/><rect x="135.6" y="229.8" width="1.5" height="1.5"/><rect x="137.6" y="233.8" width="1.5" height="1.5"/><rect x="164.4" y="219.9" width="1.5" height="1.5"/><rect x="166.8" y="220.9" width="1.5" height="1.5"/><rect x="171.8" y="221.4" width="1.5" height="1.5"/><rect x="159.9" y="227.4" width="1.5" height="1.5"/><rect x="156.9" y="230.8" width="1.5" height="1.5"/><rect x="155.9" y="234.2" width="1.5" height="1.5"/><rect x="158.9" y="233.3" width="1.5" height="1.5"/><rect x="161.9" y="232.2" width="1.5" height="1.5"/><rect x="172.4" y="236.8" width="1.5" height="1.5"/><rect x="157.9" y="243.7" width="1.5" height="1.5"/><rect x="185.2" y="198.2" width="1.5" height="1.5"/><rect x="162.9" y="188.2" width="1.5" height="1.5"/><rect x="141.7" y="246.7" width="1.5" height="1.5"/><rect x="142.4" y="250.8" width="1.5" height="1.5"/><rect x="145.3" y="247.4" width="1.5" height="1.5"/><rect x="153.9" y="246.7" width="1.5" height="1.5"/><rect x="158.1" y="243.8" width="1.5" height="1.5"/><rect x="149.1" y="253.2" width="1.5" height="1.5"/><rect x="152.3" y="251.7" width="1.5" height="1.5"/><rect x="153.9" y="252.4" width="1.5" height="1.5"/><rect x="158.1" y="250.8" width="1.5" height="1.5"/><rect x="159.3" y="252.4" width="1.5" height="1.5"/><rect x="160.2" y="250.8" width="1.5" height="1.5"/><rect x="158.9" y="255.8" width="1.5" height="1.5"/><rect x="160.6" y="259.1" width="1.5" height="1.5"/><rect x="162.2" y="259.9" width="1.5" height="1.5"/><rect x="146.6" y="258.6" width="1.5" height="1.5"/><rect x="144.9" y="264.8" width="1.5" height="1.5"/><rect x="149.1" y="270.9" width="1.5" height="1.5"/><rect x="139.9" y="278.4" width="1.5" height="1.5"/><rect x="173.4" y="248.8" width="1.5" height="1.5"/><rect x="174.6" y="249.2" width="1.5" height="1.5"/><rect x="173.8" y="255.8" width="1.5" height="1.5"/><rect x="185.2" y="278.4" width="1.5" height="1.5"/><rect x="186.1" y="249.9" width="1.5" height="1.5"/><rect x="190.6" y="189.2" width="1.5" height="1.5"/><rect x="203.7" y="189.8" width="1.5" height="1.5"/><rect x="215.8" y="191.2" width="1.5" height="1.5"/><rect x="217.8" y="187.8" width="1.5" height="1.5"/><rect x="220.8" y="191.2" width="1.5" height="1.5"/><rect x="193.2" y="196.6" width="1.5" height="1.5"/><rect x="198.1" y="199.2" width="1.5" height="1.5"/><rect x="185.2" y="197.6" width="1.5" height="1.5"/><rect x="222.8" y="201.7" width="1.5" height="1.5"/><rect x="221.8" y="205.1" width="1.5" height="1.5"/><rect x="204.6" y="205.7" width="1.5" height="1.5"/><rect x="206.6" y="208.4" width="1.5" height="1.5"/><rect x="214.4" y="207.1" width="1.5" height="1.5"/><rect x="216.4" y="209.1" width="1.5" height="1.5"/><rect x="208.9" y="215.6" width="1.5" height="1.5"/><rect x="210.9" y="213.9" width="1.5" height="1.5"/><rect x="222.4" y="211.9" width="1.5" height="1.5"/><rect x="223.8" y="212.9" width="1.5" height="1.5"/><rect x="222.4" y="217.9" width="1.5" height="1.5"/><rect x="220.4" y="219.6" width="1.5" height="1.5"/><rect x="217.8" y="221.4" width="1.5" height="1.5"/><rect x="224.3" y="221.4" width="1.5" height="1.5"/><rect x="223.8" y="225.8" width="1.5" height="1.5"/><rect x="186.2" y="218.3" width="1.5" height="1.5"/><rect x="210.6" y="221.4" width="1.5" height="1.5"/><rect x="215.4" y="223.8" width="1.5" height="1.5"/><rect x="184.2" y="230.8" width="1.5" height="1.5"/><rect x="185.2" y="235.8" width="1.5" height="1.5"/><rect x="188.8" y="243.7" width="1.5" height="1.5"/><rect x="189.8" y="245.7" width="1.5" height="1.5"/><rect x="235.2" y="233.8" width="1.5" height="1.5"/><rect x="189.9" y="244.2" width="1.5" height="1.5"/><rect x="185.8" y="249.9" width="1.5" height="1.5"/><rect x="193.2" y="248.3" width="1.5" height="1.5"/><rect x="189.2" y="256.6" width="1.5" height="1.5"/><rect x="192.4" y="254.9" width="1.5" height="1.5"/><rect x="197.1" y="254.9" width="1.5" height="1.5"/><rect x="199.8" y="251.7" width="1.5" height="1.5"/><rect x="202.3" y="249.2" width="1.5" height="1.5"/><rect x="203.9" y="247.2" width="1.5" height="1.5"/><rect x="206.4" y="247.2" width="1.5" height="1.5"/><rect x="209.8" y="248.3" width="1.5" height="1.5"/><rect x="206.9" y="255.8" width="1.5" height="1.5"/><rect x="210.6" y="257.1" width="1.5" height="1.5"/><rect x="217.2" y="257.8" width="1.5" height="1.5"/><rect x="219.7" y="249.2" width="1.5" height="1.5"/><rect x="221.2" y="250.4" width="1.5" height="1.5"/><rect x="220.8" y="253.2" width="1.5" height="1.5"/><rect x="222.9" y="259.1" width="1.5" height="1.5"/><rect x="189.4" y="265.9" width="1.5" height="1.5"/><rect x="208.1" y="268.1" width="1.5" height="1.5"/><rect x="214.3" y="267.6" width="1.5" height="1.5"/><rect x="222.1" y="269.4" width="1.5" height="1.5"/><rect x="185.1" y="277.9" width="1.5" height="1.5"/><rect x="236.1" y="251.7" width="1.5" height="1.5"/><rect x="237.8" y="255.8" width="1.5" height="1.5"/><rect x="235.2" y="260.6" width="1.5" height="1.5"/><rect x="236.9" y="262.4" width="1.5" height="1.5"/><rect x="237.8" y="267.6" width="1.5" height="1.5"/><rect x="235.2" y="234.3" width="1.5" height="1.5"/><rect x="273.1" y="223.4" width="1.5" height="1.5"/><rect x="264.9" y="242.7" width="1.5" height="1.5"/><rect x="269.9" y="243.7" width="1.5" height="1.5"/><rect x="236.3" y="251.7" width="1.5" height="1.5"/><rect x="240.4" y="252.2" width="1.5" height="1.5"/><rect x="238.4" y="255.8" width="1.5" height="1.5"/><rect x="246.2" y="254.9" width="1.5" height="1.5"/><rect x="235.4" y="260.4" width="1.5" height="1.5"/><rect x="237.9" y="262.4" width="1.5" height="1.5"/><rect x="239.7" y="262.4" width="1.5" height="1.5"/><rect x="242.1" y="259.4" width="1.5" height="1.5"/><rect x="248.3" y="265.2" width="1.5" height="1.5"/><rect x="237.4" y="268.1" width="1.5" height="1.5"/><rect x="238.8" y="272.2" width="1.5" height="1.5"/><rect x="255.6" y="262.4" width="1.5" height="1.5"/><rect x="256.9" y="267.6" width="1.5" height="1.5"/><rect x="257.8" y="267.6" width="1.5" height="1.5"/><rect x="256.1" y="272.2" width="1.5" height="1.5"/><rect x="260.2" y="276.9" width="1.5" height="1.5"/><rect x="263.9" y="278.2" width="1.5" height="1.5"/><rect x="262.1" y="248.8" width="1.5" height="1.5"/><rect x="266.8" y="257.1" width="1.5" height="1.5"/><rect x="270.4" y="243.8" width="1.5" height="1.5"/><rect x="273.1" y="249.4" width="1.5" height="1.5"/><rect x="272.6" y="254.9" width="1.5" height="1.5"/><rect x="273.4" y="263.1" width="1.5" height="1.5"/><rect x="267.6" y="265.6" width="1.5" height="1.5"/><rect x="270.4" y="271.9" width="1.5" height="1.5"/><rect x="269.8" y="274.6" width="1.5" height="1.5"/><rect x="270.4" y="275.9" width="1.5" height="1.5"/><rect x="250.3" y="244.2" width="1.5" height="1.5"/><rect x="242.8" y="244.2" width="1.5" height="1.5"/><rect x="295.1" y="238.8" width="1.5" height="1.5"/><rect x="295.1" y="240.3" width="1.5" height="1.5"/><rect x="295.1" y="242.1" width="1.5" height="1.5"/><rect x="291.8" y="243.7" width="1.5" height="1.5"/><rect x="293.4" y="243.7" width="1.5" height="1.5"/><rect x="295.9" y="244.4" width="1.5" height="1.5"/><rect x="297.4" y="244.8" width="1.5" height="1.5"/><rect x="300.8" y="241.2" width="1.5" height="1.5"/><rect x="309.1" y="238.8" width="1.5" height="1.5"/><rect x="295.1" y="250.2" width="1.5" height="1.5"/><rect x="295.1" y="251.9" width="1.5" height="1.5"/><rect x="294.6" y="254.3" width="1.5" height="1.5"/><rect x="290.9" y="253.6" width="1.5" height="1.5"/><rect x="287.6" y="256.1" width="1.5" height="1.5"/><rect x="288.4" y="257.6" width="1.5" height="1.5"/><rect x="293.8" y="257.4" width="1.5" height="1.5"/><rect x="294.6" y="260.9" width="1.5" height="1.5"/><rect x="296.6" y="262.6" width="1.5" height="1.5"/><rect x="299.1" y="263.4" width="1.5" height="1.5"/><rect x="286.4" y="261.8" width="1.5" height="1.5"/><rect x="285.9" y="264.2" width="1.5" height="1.5"/><rect x="301.9" y="256.1" width="1.5" height="1.5"/><rect x="304.9" y="254.3" width="1.5" height="1.5"/><rect x="307.4" y="253.6" width="1.5" height="1.5"/><rect x="306.6" y="256.9" width="1.5" height="1.5"/><rect x="308.2" y="256.9" width="1.5" height="1.5"/><rect x="317.2" y="250.2" width="1.5" height="1.5"/><rect x="323.1" y="257.4" width="1.5" height="1.5"/><rect x="305.8" y="260.9" width="1.5" height="1.5"/><rect x="87.8" y="278.2" width="1.5" height="1.5"/><rect x="89.8" y="278.2" width="1.5" height="1.5"/><rect x="91.5" y="278.2" width="1.5" height="1.5"/><rect x="93.3" y="278.2" width="1.5" height="1.5"/><rect x="95.2" y="278.2" width="1.5" height="1.5"/><rect x="97.2" y="278.2" width="1.5" height="1.5"/><rect x="99.2" y="278.2" width="1.5" height="1.5"/><rect x="101.2" y="278.2" width="1.5" height="1.5"/><rect x="103.2" y="278.2" width="1.5" height="1.5"/><rect x="105.2" y="278.2" width="1.5" height="1.5"/><rect x="107.2" y="278.2" width="1.5" height="1.5"/><rect x="109.2" y="278.2" width="1.5" height="1.5"/><rect x="111.2" y="278.2" width="1.5" height="1.5"/><rect x="113.8" y="278.2" width="1.5" height="1.5"/><rect x="116.2" y="278.2" width="1.5" height="1.5"/><rect x="118.2" y="278.2" width="1.5" height="1.5"/><rect x="120.2" y="278.2" width="1.5" height="1.5"/><rect x="122.2" y="278.2" width="1.5" height="1.5"/><rect x="124.8" y="278.2" width="1.5" height="1.5"/><rect x="286.2" y="278.2" width="1.5" height="1.5"/><rect x="288.2" y="278.2" width="1.5" height="1.5"/><rect x="290.2" y="278.2" width="1.5" height="1.5"/><rect x="292.2" y="278.2" width="1.5" height="1.5"/><rect x="294.2" y="278.2" width="1.5" height="1.5"/><rect x="296.2" y="278.2" width="1.5" height="1.5"/><rect x="298.2" y="278.2" width="1.5" height="1.5"/><rect x="300.2" y="278.2" width="1.5" height="1.5"/><rect x="302.2" y="278.2" width="1.5" height="1.5"/><rect x="304.2" y="278.2" width="1.5" height="1.5"/><rect x="306.2" y="278.2" width="1.5" height="1.5"/><rect x="308.2" y="278.2" width="1.5" height="1.5"/><rect x="310.2" y="278.2" width="1.5" height="1.5"/><rect x="312.2" y="278.2" width="1.5" height="1.5"/><rect x="314.2" y="278.2" width="1.5" height="1.5"/><rect x="316.2" y="278.2" width="1.5" height="1.5"/><rect x="318.2" y="278.2" width="1.5" height="1.5"/><rect x="320.2" y="278.2" width="1.5" height="1.5"/><rect x="322.2" y="278.2" width="1.5" height="1.5"/><rect x="441.9" y="115.8" width="1.5" height="1.5"/><rect x="453.2" y="115.8" width="1.5" height="1.5"/><rect x="459.6" y="116.3" width="1.5" height="1.5"/><rect x="462.1" y="112.7" width="1.5" height="1.5"/><rect x="451.4" y="120.5" width="1.5" height="1.5"/><rect x="472.2" y="120.8" width="1.5" height="1.5"/><rect x="471.2" y="123.5" width="1.5" height="1.5"/><rect x="473.2" y="125.3" width="1.5" height="1.5"/><rect x="482.9" y="127.0" width="1.5" height="1.5"/><rect x="460.9" y="128.7" width="1.5" height="1.5"/><rect x="441.6" y="142.9" width="1.5" height="1.5"/><rect x="442.6" y="150.6" width="1.5" height="1.5"/><rect x="454.9" y="143.3" width="1.5" height="1.5"/><rect x="457.9" y="145.8" width="1.5" height="1.5"/><rect x="466.1" y="146.4" width="1.5" height="1.5"/><rect x="468.6" y="146.4" width="1.5" height="1.5"/><rect x="463.1" y="149.6" width="1.5" height="1.5"/><rect x="443.1" y="127.4" width="1.5" height="1.5"/><rect x="444.6" y="130.7" width="1.5" height="1.5"/><rect x="443.6" y="133.2" width="1.5" height="1.5"/><rect x="462.1" y="135.2" width="1.5" height="1.5"/><rect x="459.9" y="138.2" width="1.5" height="1.5"/><rect x="465.1" y="140.3" width="1.5" height="1.5"/><rect x="466.8" y="131.1" width="1.5" height="1.5"/><rect x="482.9" y="127.0" width="1.5" height="1.5"/><rect x="490.6" y="129.1" width="1.5" height="1.5"/><rect x="496.2" y="132.8" width="1.5" height="1.5"/><rect x="500.4" y="126.5" width="1.5" height="1.5"/><rect x="504.9" y="120.8" width="1.5" height="1.5"/><rect x="510.9" y="128.7" width="1.5" height="1.5"/><rect x="516.0" y="145.4" width="1.5" height="1.5"/><rect x="484.9" y="148.4" width="1.5" height="1.5"/><rect x="487.4" y="149.2" width="1.5" height="1.5"/><rect x="493.1" y="148.4" width="1.5" height="1.5"/><rect x="514.5" y="150.6" width="1.5" height="1.5"/><rect x="482.4" y="138.8" width="1.5" height="1.5"/><rect x="488.2" y="142.2" width="1.5" height="1.5"/><rect x="494.2" y="140.2" width="1.5" height="1.5"/><rect x="504.2" y="137.2" width="1.5" height="1.5"/><rect x="509.2" y="144.2" width="1.5" height="1.5"/><rect x="511.2" y="135.2" width="1.5" height="1.5"/><rect x="527.0" y="98.0" width="1.5" height="1.5"/><rect x="530.5" y="112.7" width="1.5" height="1.5"/><rect x="528.4" y="138.2" width="1.5" height="1.5"/><rect x="526.4" y="142.9" width="1.5" height="1.5"/><rect x="528.0" y="143.8" width="1.5" height="1.5"/><rect x="532.5" y="143.3" width="1.5" height="1.5"/><rect x="530.9" y="139.2" width="1.5" height="1.5"/><rect x="533.5" y="81.0" width="1.5" height="1.5"/><rect x="534.6" y="81.0" width="1.5" height="1.5"/><rect x="539.6" y="81.0" width="1.5" height="1.5"/><rect x="546.0" y="80.3" width="1.5" height="1.5"/><rect x="555.2" y="91.8" width="1.5" height="1.5"/><rect x="539.5" y="94.3" width="1.5" height="1.5"/><rect x="527.1" y="98.3" width="1.5" height="1.5"/><rect x="550.4" y="96.8" width="1.5" height="1.5"/><rect x="557.5" y="103.8" width="1.5" height="1.5"/><rect x="531.0" y="112.8" width="1.5" height="1.5"/><rect x="527.0" y="143.3" width="1.5" height="1.5"/><rect x="527.9" y="144.6" width="1.5" height="1.5"/><rect x="530.4" y="139.4" width="1.5" height="1.5"/><rect x="531.2" y="138.6" width="1.5" height="1.5"/><rect x="533.0" y="142.8" width="1.5" height="1.5"/><rect x="542.5" y="140.2" width="1.5" height="1.5"/><rect x="552.6" y="141.7" width="1.5" height="1.5"/><rect x="551.0" y="150.6" width="1.5" height="1.5"/><rect x="554.5" y="150.6" width="1.5" height="1.5"/><rect x="559.5" y="139.4" width="1.5" height="1.5"/><rect x="559.5" y="119.7" width="1.5" height="1.5"/><rect x="558.8" y="110.2" width="1.5" height="1.5"/><rect x="569.5" y="111.2" width="1.5" height="1.5"/><rect x="537.8" y="119.3" width="1.5" height="1.5"/><rect x="537.2" y="127.4" width="1.5" height="1.5"/><rect x="541.2" y="122.2" width="1.5" height="1.5"/><rect x="547.2" y="117.2" width="1.5" height="1.5"/><rect x="553.2" y="129.2" width="1.5" height="1.5"/><rect x="549.2" y="133.2" width="1.5" height="1.5"/><rect x="603.0" y="96.3" width="1.5" height="1.5"/><rect x="597.0" y="107.0" width="1.5" height="1.5"/><rect x="569.1" y="110.8" width="1.5" height="1.5"/><rect x="579.2" y="111.8" width="1.5" height="1.5"/><rect x="588.5" y="112.5" width="1.5" height="1.5"/><rect x="577.5" y="113.5" width="1.5" height="1.5"/><rect x="598.5" y="113.5" width="1.5" height="1.5"/><rect x="600.8" y="115.3" width="1.5" height="1.5"/><rect x="588.1" y="135.2" width="1.5" height="1.5"/><rect x="589.6" y="136.2" width="1.5" height="1.5"/><rect x="592.5" y="136.2" width="1.5" height="1.5"/><rect x="579.2" y="136.8" width="1.5" height="1.5"/><rect x="577.5" y="139.1" width="1.5" height="1.5"/><rect x="601.5" y="134.7" width="1.5" height="1.5"/><rect x="601.5" y="141.9" width="1.5" height="1.5"/><rect x="585.2" y="142.3" width="1.5" height="1.5"/><rect x="589.6" y="141.2" width="1.5" height="1.5"/><rect x="594.1" y="141.2" width="1.5" height="1.5"/><rect x="597.0" y="131.2" width="1.5" height="1.5"/><rect x="598.5" y="129.1" width="1.5" height="1.5"/><rect x="574.9" y="118.0" width="1.5" height="1.5"/><rect x="573.0" y="122.0" width="1.5" height="1.5"/><rect x="581.5" y="124.7" width="1.5" height="1.5"/><rect x="626.6" y="48.5" width="1.5" height="1.5"/><rect x="637.1" y="48.5" width="1.5" height="1.5"/><rect x="638.8" y="48.5" width="1.5" height="1.5"/><rect x="646.2" y="62.6" width="1.5" height="1.5"/><rect x="614.1" y="72.0" width="1.5" height="1.5"/><rect x="645.9" y="71.0" width="1.5" height="1.5"/><rect x="616.1" y="80.8" width="1.5" height="1.5"/><rect x="625.6" y="91.2" width="1.5" height="1.5"/><rect x="624.0" y="96.2" width="1.5" height="1.5"/><rect x="632.4" y="95.7" width="1.5" height="1.5"/><rect x="643.5" y="103.2" width="1.5" height="1.5"/><rect x="640.9" y="106.0" width="1.5" height="1.5"/><rect x="612.2" y="119.2" width="1.5" height="1.5"/><rect x="622.1" y="110.3" width="1.5" height="1.5"/><rect x="614.0" y="141.8" width="1.5" height="1.5"/><rect x="612.2" y="142.4" width="1.5" height="1.5"/><rect x="626.0" y="143.8" width="1.5" height="1.5"/><rect x="625.4" y="136.8" width="1.5" height="1.5"/><rect x="636.4" y="140.3" width="1.5" height="1.5"/><rect x="632.9" y="113.2" width="1.5" height="1.5"/><rect x="630.1" y="117.2" width="1.5" height="1.5"/><rect x="640.0" y="121.0" width="1.5" height="1.5"/><rect x="640.0" y="124.2" width="1.5" height="1.5"/><rect x="623.0" y="130.6" width="1.5" height="1.5"/><rect x="614.0" y="127.0" width="1.5" height="1.5"/><rect x="657.8" y="145.8" width="1.5" height="1.5"/><rect x="656.9" y="147.2" width="1.5" height="1.5"/><rect x="656.0" y="148.4" width="1.5" height="1.5"/><rect x="663.0" y="141.8" width="1.5" height="1.5"/><rect x="664.9" y="143.1" width="1.5" height="1.5"/><rect x="665.4" y="144.8" width="1.5" height="1.5"/><rect x="670.2" y="144.8" width="1.5" height="1.5"/><rect x="671.5" y="143.9" width="1.5" height="1.5"/><rect x="678.8" y="144.7" width="1.5" height="1.5"/><rect x="689.5" y="143.1" width="1.5" height="1.5"/><rect x="675.2" y="150.2" width="1.5" height="1.5"/><rect x="683.2" y="149.2" width="1.5" height="1.5"/><rect x="446.4" y="192.6" width="1.5" height="1.5"/><rect x="448.4" y="192.6" width="1.5" height="1.5"/><rect x="451.4" y="192.6" width="1.5" height="1.5"/><rect x="463.9" y="193.6" width="1.5" height="1.5"/><rect x="465.2" y="193.6" width="1.5" height="1.5"/><rect x="448.6" y="244.8" width="1.5" height="1.5"/><rect x="450.6" y="247.2" width="1.5" height="1.5"/><rect x="443.2" y="248.6" width="1.5" height="1.5"/><rect x="463.6" y="244.8" width="1.5" height="1.5"/><rect x="463.6" y="246.3" width="1.5" height="1.5"/><rect x="463.6" y="248.1" width="1.5" height="1.5"/><rect x="444.9" y="253.4" width="1.5" height="1.5"/><rect x="443.8" y="253.8" width="1.5" height="1.5"/><rect x="453.6" y="256.8" width="1.5" height="1.5"/><rect x="461.9" y="253.4" width="1.5" height="1.5"/><rect x="468.4" y="255.2" width="1.5" height="1.5"/><rect x="463.9" y="257.4" width="1.5" height="1.5"/><rect x="460.6" y="257.9" width="1.5" height="1.5"/><rect x="472.1" y="258.8" width="1.5" height="1.5"/><rect x="486.1" y="254.2" width="1.5" height="1.5"/><rect x="486.1" y="259.6" width="1.5" height="1.5"/><rect x="441.6" y="258.8" width="1.5" height="1.5"/><rect x="442.9" y="260.4" width="1.5" height="1.5"/><rect x="506.9" y="232.4" width="1.5" height="1.5"/><rect x="508.9" y="232.4" width="1.5" height="1.5"/><rect x="525.4" y="222.9" width="1.5" height="1.5"/><rect x="529.2" y="225.8" width="1.5" height="1.5"/><rect x="527.4" y="231.2" width="1.5" height="1.5"/><rect x="531.6" y="230.8" width="1.5" height="1.5"/><rect x="528.8" y="234.4" width="1.5" height="1.5"/><rect x="525.8" y="242.8" width="1.5" height="1.5"/><rect x="532.6" y="241.2" width="1.5" height="1.5"/><rect x="490.1" y="248.2" width="1.5" height="1.5"/><rect x="546.0" y="193.6" width="1.5" height="1.5"/><rect x="540.0" y="208.6" width="1.5" height="1.5"/><rect x="538.5" y="212.9" width="1.5" height="1.5"/><rect x="546.5" y="211.9" width="1.5" height="1.5"/><rect x="552.0" y="211.3" width="1.5" height="1.5"/><rect x="545.0" y="220.8" width="1.5" height="1.5"/><rect x="548.0" y="224.8" width="1.5" height="1.5"/><rect x="525.5" y="222.8" width="1.5" height="1.5"/><rect x="529.5" y="225.8" width="1.5" height="1.5"/><rect x="536.6" y="227.2" width="1.5" height="1.5"/><rect x="546.5" y="228.3" width="1.5" height="1.5"/><rect x="554.0" y="227.2" width="1.5" height="1.5"/><rect x="553.4" y="228.8" width="1.5" height="1.5"/><rect x="527.5" y="231.2" width="1.5" height="1.5"/><rect x="529.1" y="233.2" width="1.5" height="1.5"/><rect x="535.0" y="230.8" width="1.5" height="1.5"/><rect x="532.1" y="231.8" width="1.5" height="1.5"/><rect x="542.6" y="231.2" width="1.5" height="1.5"/><rect x="540.0" y="234.2" width="1.5" height="1.5"/><rect x="574.2" y="224.8" width="1.5" height="1.5"/><rect x="577.6" y="225.2" width="1.5" height="1.5"/><rect x="612.0" y="208.2" width="1.5" height="1.5"/><rect x="621.0" y="210.8" width="1.5" height="1.5"/><rect x="574.5" y="224.8" width="1.5" height="1.5"/><rect x="578.2" y="224.8" width="1.5" height="1.5"/><rect x="594.0" y="224.2" width="1.5" height="1.5"/><rect x="598.9" y="230.8" width="1.5" height="1.5"/><rect x="615.4" y="229.8" width="1.5" height="1.5"/><rect x="616.6" y="232.2" width="1.5" height="1.5"/><rect x="578.8" y="236.3" width="1.5" height="1.5"/><rect x="593.5" y="236.3" width="1.5" height="1.5"/><rect x="576.6" y="240.4" width="1.5" height="1.5"/><rect x="592.2" y="239.7" width="1.5" height="1.5"/><rect x="598.9" y="241.2" width="1.5" height="1.5"/><rect x="602.1" y="242.9" width="1.5" height="1.5"/><rect x="601.9" y="244.6" width="1.5" height="1.5"/><rect x="582.4" y="242.9" width="1.5" height="1.5"/><rect x="588.1" y="244.6" width="1.5" height="1.5"/><rect x="589.8" y="245.1" width="1.5" height="1.5"/><rect x="569.2" y="242.9" width="1.5" height="1.5"/><rect x="594.8" y="246.2" width="1.5" height="1.5"/><rect x="596.4" y="247.6" width="1.5" height="1.5"/><rect x="576.6" y="247.8" width="1.5" height="1.5"/><rect x="621.5" y="184.1" width="1.5" height="1.5"/><rect x="640.9" y="184.1" width="1.5" height="1.5"/><rect x="615.0" y="189.1" width="1.5" height="1.5"/><rect x="621.5" y="189.1" width="1.5" height="1.5"/><rect x="636.9" y="196.9" width="1.5" height="1.5"/><rect x="637.9" y="199.8" width="1.5" height="1.5"/><rect x="642.5" y="199.4" width="1.5" height="1.5"/><rect x="646.4" y="204.8" width="1.5" height="1.5"/><rect x="612.1" y="207.8" width="1.5" height="1.5"/><rect x="620.6" y="210.8" width="1.5" height="1.5"/><rect x="637.2" y="206.8" width="1.5" height="1.5"/><rect x="638.9" y="215.3" width="1.5" height="1.5"/><rect x="632.0" y="217.3" width="1.5" height="1.5"/><rect x="630.5" y="219.7" width="1.5" height="1.5"/><rect x="626.0" y="223.2" width="1.5" height="1.5"/><rect x="630.5" y="218.3" width="1.5" height="1.5"/><rect x="631.9" y="217.2" width="1.5" height="1.5"/><rect x="625.6" y="224.2" width="1.5" height="1.5"/><rect x="626.5" y="223.8" width="1.5" height="1.5"/><rect x="615.4" y="229.9" width="1.5" height="1.5"/><rect x="617.0" y="232.1" width="1.5" height="1.5"/><rect x="628.0" y="238.2" width="1.5" height="1.5"/><rect x="635.1" y="238.2" width="1.5" height="1.5"/><rect x="644.5" y="229.1" width="1.5" height="1.5"/><rect x="643.0" y="234.3" width="1.5" height="1.5"/><rect x="645.4" y="232.3" width="1.5" height="1.5"/><rect x="643.8" y="238.9" width="1.5" height="1.5"/><rect x="645.0" y="239.8" width="1.5" height="1.5"/><rect x="643.5" y="241.4" width="1.5" height="1.5"/><rect x="637.1" y="241.4" width="1.5" height="1.5"/><rect x="638.5" y="244.8" width="1.5" height="1.5"/><rect x="640.5" y="244.8" width="1.5" height="1.5"/><rect x="602.5" y="243.1" width="1.5" height="1.5"/><rect x="601.8" y="244.8" width="1.5" height="1.5"/><rect x="638.8" y="215.1" width="1.5" height="1.5"/><rect x="664.5" y="267.6" width="1.5" height="1.5"/><rect x="664.5" y="269.6" width="1.5" height="1.5"/><rect x="664.5" y="271.6" width="1.5" height="1.5"/><rect x="668.5" y="270.6" width="1.5" height="1.5"/><rect x="673.5" y="271.6" width="1.5" height="1.5"/><rect x="676.5" y="267.6" width="1.5" height="1.5"/><rect x="680.5" y="269.6" width="1.5" height="1.5"/><rect x="681.5" y="272.6" width="1.5" height="1.5"/><rect x="686.5" y="268.6" width="1.5" height="1.5"/><rect x="689.0" y="273.2" width="1.5" height="1.5"/><rect x="680.5" y="276.6" width="1.5" height="1.5"/><rect x="685.5" y="277.6" width="1.5" height="1.5"/><rect x="662.4" y="275.2" width="1.5" height="1.5"/><rect x="661.4" y="277.6" width="1.5" height="1.5"/><rect x="665.5" y="277.6" width="1.5" height="1.5"/><rect x="670.5" y="276.6" width="1.5" height="1.5"/><rect x="673.5" y="275.2" width="1.5" height="1.5"/><rect x="485.4" y="254.1" width="1.5" height="1.5"/><rect x="486.1" y="261.1" width="1.5" height="1.5"/><rect x="487.1" y="264.6" width="1.5" height="1.5"/><rect x="489.9" y="249.3" width="1.5" height="1.5"/><rect x="491.1" y="249.8" width="1.5" height="1.5"/><rect x="492.1" y="255.2" width="1.5" height="1.5"/><rect x="492.8" y="256.1" width="1.5" height="1.5"/><rect x="493.2" y="261.1" width="1.5" height="1.5"/><rect x="494.9" y="257.8" width="1.5" height="1.5"/><rect x="495.8" y="262.9" width="1.5" height="1.5"/><rect x="496.1" y="267.1" width="1.5" height="1.5"/><rect x="497.4" y="254.4" width="1.5" height="1.5"/><rect x="497.9" y="251.1" width="1.5" height="1.5"/><rect x="498.9" y="256.1" width="1.5" height="1.5"/><rect x="498.4" y="261.1" width="1.5" height="1.5"/><rect x="483.1" y="269.6" width="1.5" height="1.5"/><rect x="488.2" y="267.9" width="1.5" height="1.5"/><rect x="489.9" y="269.6" width="1.5" height="1.5"/><rect x="492.1" y="267.9" width="1.5" height="1.5"/><rect x="494.1" y="268.8" width="1.5" height="1.5"/><rect x="491.1" y="264.6" width="1.5" height="1.5"/><rect x="507.9" y="250.2" width="1.5" height="1.5"/><rect x="513.5" y="253.6" width="1.5" height="1.5"/><rect x="513.0" y="256.9" width="1.5" height="1.5"/><rect x="516.0" y="267.1" width="1.5" height="1.5"/><rect x="500.9" y="278.1" width="1.5" height="1.5"/><rect x="504.2" y="279.8" width="1.5" height="1.5"/><rect x="508.4" y="280.6" width="1.5" height="1.5"/><rect x="510.1" y="282.2" width="1.5" height="1.5"/><rect x="511.9" y="283.9" width="1.5" height="1.5"/><rect x="512.6" y="283.9" width="1.5" height="1.5"/><rect x="482.2" y="283.4" width="1.5" height="1.5"/><rect x="484.9" y="282.8" width="1.5" height="1.5"/><rect x="498.4" y="282.8" width="1.5" height="1.5"/><rect x="500.1" y="279.8" width="1.5" height="1.5"/><rect x="444.4" y="253.2" width="1.5" height="1.5"/><rect x="447.8" y="254.8" width="1.5" height="1.5"/><rect x="448.4" y="251.2" width="1.5" height="1.5"/><rect x="453.8" y="256.6" width="1.5" height="1.5"/><rect x="454.4" y="257.1" width="1.5" height="1.5"/><rect x="442.6" y="259.1" width="1.5" height="1.5"/><rect x="441.2" y="261.1" width="1.5" height="1.5"/><rect x="449.8" y="260.4" width="1.5" height="1.5"/><rect x="462.2" y="251.2" width="1.5" height="1.5"/><rect x="461.6" y="254.6" width="1.5" height="1.5"/><rect x="463.2" y="257.9" width="1.5" height="1.5"/><rect x="468.2" y="255.6" width="1.5" height="1.5"/><rect x="470.9" y="258.4" width="1.5" height="1.5"/><rect x="466.9" y="261.8" width="1.5" height="1.5"/><rect x="466.2" y="260.9" width="1.5" height="1.5"/><rect x="457.6" y="261.8" width="1.5" height="1.5"/><rect x="459.6" y="262.4" width="1.5" height="1.5"/><rect x="440.2" y="265.1" width="1.5" height="1.5"/><rect x="439.4" y="267.8" width="1.5" height="1.5"/><rect x="440.8" y="270.4" width="1.5" height="1.5"/><rect x="439.9" y="272.4" width="1.5" height="1.5"/><rect x="443.1" y="264.4" width="1.5" height="1.5"/><rect x="445.9" y="265.8" width="1.5" height="1.5"/><rect x="448.4" y="266.4" width="1.5" height="1.5"/><rect x="451.1" y="265.1" width="1.5" height="1.5"/><rect x="452.4" y="267.8" width="1.5" height="1.5"/><rect x="447.1" y="269.1" width="1.5" height="1.5"/><rect x="444.4" y="268.4" width="1.5" height="1.5"/><rect x="442.6" y="269.1" width="1.5" height="1.5"/><rect x="449.8" y="269.6" width="1.5" height="1.5"/><rect x="453.1" y="269.6" width="1.5" height="1.5"/><rect x="454.4" y="266.4" width="1.5" height="1.5"/><rect x="458.9" y="266.4" width="1.5" height="1.5"/><rect x="461.6" y="267.8" width="1.5" height="1.5"/><rect x="464.2" y="265.8" width="1.5" height="1.5"/><rect x="466.9" y="269.1" width="1.5" height="1.5"/><rect x="469.6" y="267.1" width="1.5" height="1.5"/><rect x="458.4" y="269.6" width="1.5" height="1.5"/><rect x="441.9" y="276.9" width="1.5" height="1.5"/><rect x="445.1" y="278.9" width="1.5" height="1.5"/><rect x="447.8" y="276.2" width="1.5" height="1.5"/><rect x="449.8" y="280.2" width="1.5" height="1.5"/><rect x="444.4" y="280.9" width="1.5" height="1.5"/><rect x="452.4" y="275.6" width="1.5" height="1.5"/><rect x="453.8" y="277.6" width="1.5" height="1.5"/><rect x="451.8" y="279.6" width="1.5" height="1.5"/><rect x="456.4" y="276.9" width="1.5" height="1.5"/><rect x="457.6" y="278.2" width="1.5" height="1.5"/><rect x="458.9" y="280.2" width="1.5" height="1.5"/><rect x="460.4" y="281.6" width="1.5" height="1.5"/><rect x="463.6" y="276.2" width="1.5" height="1.5"/><rect x="463.6" y="280.9" width="1.5" height="1.5"/><rect x="462.9" y="282.9" width="1.5" height="1.5"/><rect x="466.9" y="274.9" width="1.5" height="1.5"/><rect x="468.9" y="278.2" width="1.5" height="1.5"/><rect x="466.9" y="282.9" width="1.5" height="1.5"/><rect x="455.1" y="274.4" width="1.5" height="1.5"/><rect x="528.4" y="270.9" width="1.5" height="1.5"/><rect x="529.5" y="275.1" width="1.5" height="1.5"/><rect x="530.1" y="276.2" width="1.5" height="1.5"/><rect x="530.5" y="278.6" width="1.5" height="1.5"/><rect x="530.8" y="279.8" width="1.5" height="1.5"/><rect x="533.8" y="281.6" width="1.5" height="1.5"/><rect x="527.8" y="284.4" width="1.5" height="1.5"/><rect x="536.6" y="272.6" width="1.5" height="1.5"/><rect x="537.9" y="273.9" width="1.5" height="1.5"/><rect x="540.9" y="271.9" width="1.5" height="1.5"/><rect x="542.0" y="272.1" width="1.5" height="1.5"/><rect x="542.6" y="272.9" width="1.5" height="1.5"/><rect x="545.0" y="267.2" width="1.5" height="1.5"/><rect x="547.4" y="269.6" width="1.5" height="1.5"/><rect x="549.1" y="268.4" width="1.5" height="1.5"/><rect x="548.5" y="272.1" width="1.5" height="1.5"/><rect x="552.6" y="267.9" width="1.5" height="1.5"/><rect x="555.0" y="266.1" width="1.5" height="1.5"/><rect x="553.9" y="270.9" width="1.5" height="1.5"/><rect x="554.2" y="273.2" width="1.5" height="1.5"/><rect x="555.0" y="273.9" width="1.5" height="1.5"/><rect x="556.9" y="273.2" width="1.5" height="1.5"/><rect x="553.9" y="276.2" width="1.5" height="1.5"/><rect x="559.2" y="269.4" width="1.5" height="1.5"/><rect x="545.5" y="280.9" width="1.5" height="1.5"/><rect x="558.6" y="284.4" width="1.5" height="1.5"/><rect x="614.5" y="271.9" width="1.5" height="1.5"/><rect x="621.1" y="271.4" width="1.5" height="1.5"/><rect x="615.8" y="276.2" width="1.5" height="1.5"/><rect x="614.0" y="277.4" width="1.5" height="1.5"/><rect x="612.2" y="277.9" width="1.5" height="1.5"/><rect x="613.5" y="282.1" width="1.5" height="1.5"/><rect x="614.5" y="282.8" width="1.5" height="1.5"/><rect x="616.4" y="283.4" width="1.5" height="1.5"/><rect x="618.1" y="282.8" width="1.5" height="1.5"/><rect x="623.5" y="274.4" width="1.5" height="1.5"/><rect x="624.0" y="279.1" width="1.5" height="1.5"/><rect x="625.2" y="277.9" width="1.5" height="1.5"/><rect x="626.9" y="279.8" width="1.5" height="1.5"/><rect x="627.6" y="281.6" width="1.5" height="1.5"/><rect x="628.9" y="282.8" width="1.5" height="1.5"/><rect x="627.0" y="272.6" width="1.5" height="1.5"/><rect x="627.6" y="275.6" width="1.5" height="1.5"/><rect x="630.6" y="275.6" width="1.5" height="1.5"/><rect x="631.8" y="279.1" width="1.5" height="1.5"/><rect x="634.8" y="279.8" width="1.5" height="1.5"/><rect x="637.8" y="279.1" width="1.5" height="1.5"/><rect x="639.5" y="280.9" width="1.5" height="1.5"/><rect x="640.6" y="282.1" width="1.5" height="1.5"/><rect x="643.6" y="282.1" width="1.5" height="1.5"/><rect x="647.0" y="277.4" width="1.5" height="1.5"/><rect x="646.6" y="279.1" width="1.5" height="1.5"/><rect x="645.5" y="254.2" width="1.5" height="1.5"/><rect x="569.0" y="256.4" width="1.5" height="1.5"/><rect x="569.9" y="259.4" width="1.5" height="1.5"/><rect x="569.0" y="262.4" width="1.5" height="1.5"/><rect x="569.9" y="265.6" width="1.5" height="1.5"/><rect x="570.5" y="270.9" width="1.5" height="1.5"/><rect x="571.4" y="275.4" width="1.5" height="1.5"/><rect x="571.4" y="279.9" width="1.5" height="1.5"/><rect x="571.4" y="284.6" width="1.5" height="1.5"/><rect x="576.6" y="272.4" width="1.5" height="1.5"/><rect x="581.2" y="270.9" width="1.5" height="1.5"/><rect x="583.5" y="271.6" width="1.5" height="1.5"/><rect x="584.2" y="273.1" width="1.5" height="1.5"/><rect x="582.8" y="273.9" width="1.5" height="1.5"/><rect x="586.5" y="274.6" width="1.5" height="1.5"/><rect x="589.5" y="279.9" width="1.5" height="1.5"/><rect x="591.9" y="271.6" width="1.5" height="1.5"/><rect x="593.4" y="269.4" width="1.5" height="1.5"/><rect x="598.0" y="271.6" width="1.5" height="1.5"/><rect x="599.5" y="270.1" width="1.5" height="1.5"/><rect x="601.0" y="273.1" width="1.5" height="1.5"/><rect x="598.6" y="273.9" width="1.5" height="1.5"/><rect x="602.5" y="269.4" width="1.5" height="1.5"/><rect x="569.0" y="250.3" width="1.5" height="1.5"/><rect x="572.0" y="249.6" width="1.5" height="1.5"/><rect x="574.4" y="248.1" width="1.5" height="1.5"/><rect x="576.6" y="248.1" width="1.5" height="1.5"/><rect x="577.5" y="249.6" width="1.5" height="1.5"/><rect x="586.5" y="247.2" width="1.5" height="1.5"/><rect x="588.9" y="248.8" width="1.5" height="1.5"/><rect x="594.1" y="247.2" width="1.5" height="1.5"/><rect x="597.1" y="246.6" width="1.5" height="1.5"/><rect x="599.5" y="250.3" width="1.5" height="1.5"/><rect x="45.5" y="240.5" width="1.5" height="1.5"/><rect x="53.0" y="237.9" width="1.5" height="1.5"/><rect x="46.4" y="241.2" width="1.5" height="1.5"/><rect x="41.3" y="239.2" width="1.5" height="1.5"/><rect x="48.3" y="246.8" width="1.5" height="1.5"/><rect x="39.8" y="233.5" width="1.5" height="1.5"/><rect x="39.8" y="247.3" width="1.5" height="1.5"/><rect x="49.3" y="226.4" width="1.5" height="1.5"/><rect x="53.9" y="251.5" width="1.5" height="1.5"/><rect x="48.7" y="242.0" width="1.5" height="1.5"/><rect x="40.8" y="225.7" width="1.5" height="1.5"/><rect x="46.7" y="226.9" width="1.5" height="1.5"/><rect x="41.4" y="231.8" width="1.5" height="1.5"/><rect x="38.8" y="237.9" width="1.5" height="1.5"/><rect x="64.5" y="253.8" width="1.5" height="1.5"/><rect x="65.8" y="252.4" width="1.5" height="1.5"/><rect x="65.4" y="252.6" width="1.5" height="1.5"/><rect x="64.7" y="249.9" width="1.5" height="1.5"/><rect x="73.7" y="254.9" width="1.5" height="1.5"/><rect x="71.1" y="252.9" width="1.5" height="1.5"/><rect x="62.4" y="249.6" width="1.5" height="1.5"/><rect x="92.7" y="251.9" width="1.5" height="1.5"/><rect x="100.0" y="261.0" width="1.5" height="1.5"/><rect x="101.2" y="260.7" width="1.5" height="1.5"/><rect x="102.9" y="273.4" width="1.5" height="1.5"/><rect x="88.4" y="255.8" width="1.5" height="1.5"/><rect x="102.2" y="263.0" width="1.5" height="1.5"/><rect x="103.3" y="261.0" width="1.5" height="1.5"/><rect x="89.5" y="267.4" width="1.5" height="1.5"/><rect x="100.2" y="257.4" width="1.5" height="1.5"/><rect x="89.7" y="259.2" width="1.5" height="1.5"/><rect x="103.0" y="270.9" width="1.5" height="1.5"/><rect x="90.1" y="256.8" width="1.5" height="1.5"/><rect x="89.9" y="251.6" width="1.5" height="1.5"/><rect x="119.0" y="226.5" width="1.5" height="1.5"/><rect x="115.4" y="239.2" width="1.5" height="1.5"/><rect x="109.7" y="252.5" width="1.5" height="1.5"/><rect x="108.8" y="248.4" width="1.5" height="1.5"/><rect x="108.6" y="237.9" width="1.5" height="1.5"/><rect x="110.1" y="230.8" width="1.5" height="1.5"/><rect x="121.6" y="255.9" width="1.5" height="1.5"/><rect x="111.5" y="259.7" width="1.5" height="1.5"/><rect x="110.1" y="236.7" width="1.5" height="1.5"/><rect x="119.8" y="248.3" width="1.5" height="1.5"/><rect x="108.4" y="264.6" width="1.5" height="1.5"/><rect x="110.1" y="230.3" width="1.5" height="1.5"/><rect x="118.6" y="233.6" width="1.5" height="1.5"/><rect x="111.4" y="221.6" width="1.5" height="1.5"/><rect x="108.2" y="245.5" width="1.5" height="1.5"/><rect x="110.5" y="246.4" width="1.5" height="1.5"/><rect x="112.5" y="239.5" width="1.5" height="1.5"/><rect x="121.4" y="240.9" width="1.5" height="1.5"/><rect x="115.6" y="258.9" width="1.5" height="1.5"/><rect x="141.1" y="193.6" width="1.5" height="1.5"/><rect x="151.9" y="232.2" width="1.5" height="1.5"/><rect x="142.1" y="195.7" width="1.5" height="1.5"/><rect x="149.4" y="239.4" width="1.5" height="1.5"/><rect x="141.3" y="239.9" width="1.5" height="1.5"/><rect x="151.5" y="219.8" width="1.5" height="1.5"/><rect x="144.6" y="190.7" width="1.5" height="1.5"/><rect x="138.9" y="240.7" width="1.5" height="1.5"/><rect x="141.9" y="225.7" width="1.5" height="1.5"/><rect x="142.2" y="232.6" width="1.5" height="1.5"/><rect x="147.2" y="201.7" width="1.5" height="1.5"/><rect x="141.0" y="226.6" width="1.5" height="1.5"/><rect x="139.4" y="197.9" width="1.5" height="1.5"/><rect x="146.7" y="234.3" width="1.5" height="1.5"/><rect x="147.5" y="201.0" width="1.5" height="1.5"/><rect x="152.0" y="196.5" width="1.5" height="1.5"/><rect x="138.6" y="200.3" width="1.5" height="1.5"/><rect x="145.0" y="188.2" width="1.5" height="1.5"/><rect x="141.0" y="206.1" width="1.5" height="1.5"/><rect x="146.9" y="192.3" width="1.5" height="1.5"/><rect x="143.7" y="236.5" width="1.5" height="1.5"/><rect x="153.0" y="222.9" width="1.5" height="1.5"/><rect x="167.4" y="191.7" width="1.5" height="1.5"/><rect x="159.2" y="158.8" width="1.5" height="1.5"/><rect x="157.4" y="211.2" width="1.5" height="1.5"/><rect x="167.6" y="214.3" width="1.5" height="1.5"/><rect x="157.5" y="194.8" width="1.5" height="1.5"/><rect x="164.3" y="200.4" width="1.5" height="1.5"/><rect x="161.9" y="216.5" width="1.5" height="1.5"/><rect x="158.3" y="189.4" width="1.5" height="1.5"/><rect x="168.1" y="210.6" width="1.5" height="1.5"/><rect x="168.1" y="198.8" width="1.5" height="1.5"/><rect x="169.0" y="211.5" width="1.5" height="1.5"/><rect x="162.4" y="197.7" width="1.5" height="1.5"/><rect x="170.6" y="208.8" width="1.5" height="1.5"/><rect x="163.4" y="204.0" width="1.5" height="1.5"/><rect x="170.0" y="191.0" width="1.5" height="1.5"/><rect x="166.5" y="179.6" width="1.5" height="1.5"/><rect x="165.8" y="193.1" width="1.5" height="1.5"/><rect x="158.3" y="195.0" width="1.5" height="1.5"/><rect x="172.0" y="209.3" width="1.5" height="1.5"/><rect x="168.0" y="179.9" width="1.5" height="1.5"/><rect x="168.1" y="191.4" width="1.5" height="1.5"/><rect x="163.7" y="206.9" width="1.5" height="1.5"/><rect x="158.4" y="201.6" width="1.5" height="1.5"/><rect x="188.4" y="226.5" width="1.5" height="1.5"/><rect x="195.3" y="212.2" width="1.5" height="1.5"/><rect x="198.6" y="222.5" width="1.5" height="1.5"/><rect x="197.4" y="238.9" width="1.5" height="1.5"/><rect x="191.9" y="203.7" width="1.5" height="1.5"/><rect x="192.6" y="229.5" width="1.5" height="1.5"/><rect x="191.0" y="209.8" width="1.5" height="1.5"/><rect x="201.8" y="228.8" width="1.5" height="1.5"/><rect x="194.7" y="237.8" width="1.5" height="1.5"/><rect x="193.0" y="229.0" width="1.5" height="1.5"/><rect x="191.0" y="219.9" width="1.5" height="1.5"/><rect x="200.3" y="238.6" width="1.5" height="1.5"/><rect x="201.4" y="218.1" width="1.5" height="1.5"/><rect x="196.9" y="215.5" width="1.5" height="1.5"/><rect x="190.0" y="222.5" width="1.5" height="1.5"/><rect x="200.8" y="236.1" width="1.5" height="1.5"/><rect x="198.8" y="240.0" width="1.5" height="1.5"/><rect x="210.6" y="229.4" width="1.5" height="1.5"/><rect x="213.2" y="231.4" width="1.5" height="1.5"/><rect x="209.6" y="234.0" width="1.5" height="1.5"/><rect x="215.9" y="235.5" width="1.5" height="1.5"/><rect x="211.2" y="242.0" width="1.5" height="1.5"/><rect x="221.4" y="234.8" width="1.5" height="1.5"/><rect x="207.5" y="226.8" width="1.5" height="1.5"/><rect x="219.7" y="227.0" width="1.5" height="1.5"/><rect x="217.2" y="237.0" width="1.5" height="1.5"/><rect x="211.1" y="241.1" width="1.5" height="1.5"/><rect x="206.6" y="228.8" width="1.5" height="1.5"/><rect x="244.4" y="168.5" width="1.5" height="1.5"/><rect x="250.2" y="184.8" width="1.5" height="1.5"/><rect x="239.5" y="170.2" width="1.5" height="1.5"/><rect x="247.1" y="200.8" width="1.5" height="1.5"/><rect x="247.1" y="216.7" width="1.5" height="1.5"/><rect x="249.9" y="239.9" width="1.5" height="1.5"/><rect x="248.0" y="181.9" width="1.5" height="1.5"/><rect x="244.7" y="180.3" width="1.5" height="1.5"/><rect x="237.5" y="202.7" width="1.5" height="1.5"/><rect x="248.4" y="180.3" width="1.5" height="1.5"/><rect x="241.6" y="193.1" width="1.5" height="1.5"/><rect x="248.2" y="206.4" width="1.5" height="1.5"/><rect x="246.9" y="224.4" width="1.5" height="1.5"/><rect x="243.4" y="227.2" width="1.5" height="1.5"/><rect x="251.4" y="173.3" width="1.5" height="1.5"/><rect x="251.8" y="221.8" width="1.5" height="1.5"/><rect x="239.4" y="201.3" width="1.5" height="1.5"/><rect x="247.0" y="236.2" width="1.5" height="1.5"/><rect x="243.2" y="210.1" width="1.5" height="1.5"/><rect x="251.0" y="227.5" width="1.5" height="1.5"/><rect x="252.0" y="202.1" width="1.5" height="1.5"/><rect x="247.4" y="182.3" width="1.5" height="1.5"/><rect x="248.5" y="229.2" width="1.5" height="1.5"/><rect x="247.3" y="221.5" width="1.5" height="1.5"/><rect x="240.7" y="235.4" width="1.5" height="1.5"/><rect x="252.5" y="241.3" width="1.5" height="1.5"/><rect x="245.7" y="227.1" width="1.5" height="1.5"/><rect x="242.3" y="236.2" width="1.5" height="1.5"/><rect x="250.6" y="193.3" width="1.5" height="1.5"/><rect x="257.5" y="213.3" width="1.5" height="1.5"/><rect x="264.7" y="229.0" width="1.5" height="1.5"/><rect x="263.7" y="193.4" width="1.5" height="1.5"/><rect x="268.6" y="195.1" width="1.5" height="1.5"/><rect x="268.5" y="200.4" width="1.5" height="1.5"/><rect x="261.4" y="229.9" width="1.5" height="1.5"/><rect x="258.4" y="199.2" width="1.5" height="1.5"/><rect x="264.2" y="226.9" width="1.5" height="1.5"/><rect x="269.1" y="225.2" width="1.5" height="1.5"/><rect x="270.7" y="215.7" width="1.5" height="1.5"/><rect x="270.8" y="196.2" width="1.5" height="1.5"/><rect x="259.6" y="217.4" width="1.5" height="1.5"/><rect x="260.7" y="227.1" width="1.5" height="1.5"/><rect x="266.0" y="217.2" width="1.5" height="1.5"/><rect x="269.2" y="219.0" width="1.5" height="1.5"/><rect x="261.0" y="210.4" width="1.5" height="1.5"/><rect x="269.2" y="235.4" width="1.5" height="1.5"/><rect x="259.4" y="233.0" width="1.5" height="1.5"/><rect x="271.1" y="217.3" width="1.5" height="1.5"/><rect x="265.0" y="201.7" width="1.5" height="1.5"/><rect x="295.5" y="272.6" width="1.5" height="1.5"/><rect x="296.6" y="268.3" width="1.5" height="1.5"/><rect x="302.2" y="272.7" width="1.5" height="1.5"/><rect x="293.4" y="275.3" width="1.5" height="1.5"/><rect x="295.9" y="272.5" width="1.5" height="1.5"/><rect x="297.9" y="268.6" width="1.5" height="1.5"/><rect x="295.5" y="271.8" width="1.5" height="1.5"/><rect x="302.0" y="276.5" width="1.5" height="1.5"/><rect x="310.2" y="269.2" width="1.5" height="1.5"/><rect x="308.0" y="268.6" width="1.5" height="1.5"/><rect x="318.6" y="275.6" width="1.5" height="1.5"/><rect x="313.4" y="266.8" width="1.5" height="1.5"/><rect x="309.0" y="271.4" width="1.5" height="1.5"/><rect x="320.3" y="264.0" width="1.5" height="1.5"/><rect x="318.1" y="262.4" width="1.5" height="1.5"/><rect x="309.0" y="265.5" width="1.5" height="1.5"/><rect x="316.6" y="266.9" width="1.5" height="1.5"/><rect x="311.5" y="271.4" width="1.5" height="1.5"/><rect x="442.7" y="135.3" width="1.5" height="1.5"/><rect x="443.0" y="131.4" width="1.5" height="1.5"/><rect x="444.6" y="125.8" width="1.5" height="1.5"/><rect x="448.3" y="130.1" width="1.5" height="1.5"/><rect x="446.3" y="129.6" width="1.5" height="1.5"/><rect x="448.3" y="125.1" width="1.5" height="1.5"/><rect x="444.0" y="133.6" width="1.5" height="1.5"/><rect x="466.1" y="138.4" width="1.5" height="1.5"/><rect x="468.8" y="139.2" width="1.5" height="1.5"/><rect x="468.8" y="135.3" width="1.5" height="1.5"/><rect x="467.4" y="141.2" width="1.5" height="1.5"/><rect x="469.4" y="136.2" width="1.5" height="1.5"/><rect x="445.4" y="270.2" width="1.5" height="1.5"/><rect x="444.1" y="270.7" width="1.5" height="1.5"/><rect x="452.6" y="264.4" width="1.5" height="1.5"/><rect x="444.4" y="268.8" width="1.5" height="1.5"/><rect x="444.6" y="264.2" width="1.5" height="1.5"/><rect x="451.9" y="266.5" width="1.5" height="1.5"/><rect x="451.4" y="264.4" width="1.5" height="1.5"/><rect x="446.5" y="268.5" width="1.5" height="1.5"/><rect x="441.6" y="264.9" width="1.5" height="1.5"/><rect x="450.0" y="270.1" width="1.5" height="1.5"/><rect x="470.5" y="266.7" width="1.5" height="1.5"/><rect x="463.9" y="270.0" width="1.5" height="1.5"/><rect x="463.8" y="269.6" width="1.5" height="1.5"/><rect x="459.4" y="266.5" width="1.5" height="1.5"/><rect x="458.2" y="266.3" width="1.5" height="1.5"/><rect x="464.5" y="268.8" width="1.5" height="1.5"/><rect x="464.8" y="266.9" width="1.5" height="1.5"/><rect x="459.3" y="267.2" width="1.5" height="1.5"/><rect x="468.7" y="271.2" width="1.5" height="1.5"/><rect x="496.9" y="139.7" width="1.5" height="1.5"/><rect x="485.4" y="145.3" width="1.5" height="1.5"/><rect x="490.7" y="144.1" width="1.5" height="1.5"/><rect x="488.9" y="142.1" width="1.5" height="1.5"/><rect x="507.9" y="139.9" width="1.5" height="1.5"/><rect x="509.0" y="134.1" width="1.5" height="1.5"/><rect x="510.3" y="145.6" width="1.5" height="1.5"/><rect x="503.5" y="140.2" width="1.5" height="1.5"/><rect x="510.8" y="139.5" width="1.5" height="1.5"/><rect x="503.7" y="136.2" width="1.5" height="1.5"/><rect x="491.4" y="272.2" width="1.5" height="1.5"/><rect x="496.6" y="280.0" width="1.5" height="1.5"/><rect x="494.0" y="280.6" width="1.5" height="1.5"/><rect x="493.0" y="276.1" width="1.5" height="1.5"/><rect x="492.6" y="277.0" width="1.5" height="1.5"/><rect x="497.8" y="280.0" width="1.5" height="1.5"/><rect x="488.0" y="281.1" width="1.5" height="1.5"/><rect x="494.6" y="279.8" width="1.5" height="1.5"/><rect x="495.5" y="276.1" width="1.5" height="1.5"/><rect x="496.6" y="280.8" width="1.5" height="1.5"/><rect x="510.2" y="272.9" width="1.5" height="1.5"/><rect x="511.2" y="268.8" width="1.5" height="1.5"/><rect x="510.6" y="265.0" width="1.5" height="1.5"/><rect x="505.5" y="269.5" width="1.5" height="1.5"/><rect x="501.0" y="268.2" width="1.5" height="1.5"/><rect x="509.5" y="271.3" width="1.5" height="1.5"/><rect x="504.0" y="274.9" width="1.5" height="1.5"/><rect x="509.8" y="268.0" width="1.5" height="1.5"/><rect x="509.8" y="270.6" width="1.5" height="1.5"/><rect x="508.0" y="268.6" width="1.5" height="1.5"/><rect x="541.2" y="128.2" width="1.5" height="1.5"/><rect x="537.3" y="130.4" width="1.5" height="1.5"/><rect x="541.0" y="116.6" width="1.5" height="1.5"/><rect x="536.2" y="130.0" width="1.5" height="1.5"/><rect x="531.5" y="123.7" width="1.5" height="1.5"/><rect x="528.8" y="119.8" width="1.5" height="1.5"/><rect x="533.1" y="118.0" width="1.5" height="1.5"/><rect x="547.7" y="135.3" width="1.5" height="1.5"/><rect x="551.7" y="124.9" width="1.5" height="1.5"/><rect x="557.1" y="126.4" width="1.5" height="1.5"/><rect x="557.5" y="128.3" width="1.5" height="1.5"/><rect x="555.1" y="113.5" width="1.5" height="1.5"/><rect x="552.3" y="131.4" width="1.5" height="1.5"/><rect x="545.0" y="135.9" width="1.5" height="1.5"/><rect x="546.5" y="123.9" width="1.5" height="1.5"/><rect x="546.7" y="124.5" width="1.5" height="1.5"/><rect x="552.5" y="113.1" width="1.5" height="1.5"/><rect x="540.2" y="255.8" width="1.5" height="1.5"/><rect x="534.9" y="260.0" width="1.5" height="1.5"/><rect x="532.9" y="252.6" width="1.5" height="1.5"/><rect x="536.5" y="259.1" width="1.5" height="1.5"/><rect x="531.9" y="262.8" width="1.5" height="1.5"/><rect x="532.1" y="246.2" width="1.5" height="1.5"/><rect x="531.4" y="246.9" width="1.5" height="1.5"/><rect x="530.3" y="263.7" width="1.5" height="1.5"/><rect x="533.2" y="267.0" width="1.5" height="1.5"/><rect x="537.7" y="247.0" width="1.5" height="1.5"/><rect x="540.7" y="268.1" width="1.5" height="1.5"/><rect x="529.3" y="267.2" width="1.5" height="1.5"/><rect x="533.7" y="257.1" width="1.5" height="1.5"/><rect x="540.5" y="251.6" width="1.5" height="1.5"/><rect x="534.9" y="268.0" width="1.5" height="1.5"/><rect x="537.4" y="256.9" width="1.5" height="1.5"/><rect x="540.6" y="265.1" width="1.5" height="1.5"/><rect x="535.9" y="248.6" width="1.5" height="1.5"/><rect x="536.2" y="256.6" width="1.5" height="1.5"/><rect x="546.9" y="236.0" width="1.5" height="1.5"/><rect x="551.1" y="238.1" width="1.5" height="1.5"/><rect x="550.0" y="253.7" width="1.5" height="1.5"/><rect x="550.2" y="242.0" width="1.5" height="1.5"/><rect x="551.8" y="246.5" width="1.5" height="1.5"/><rect x="554.4" y="249.7" width="1.5" height="1.5"/><rect x="557.2" y="261.8" width="1.5" height="1.5"/><rect x="553.8" y="241.4" width="1.5" height="1.5"/><rect x="545.7" y="260.1" width="1.5" height="1.5"/><rect x="554.4" y="252.4" width="1.5" height="1.5"/><rect x="548.9" y="242.3" width="1.5" height="1.5"/><rect x="553.2" y="250.7" width="1.5" height="1.5"/><rect x="551.9" y="252.7" width="1.5" height="1.5"/><rect x="554.0" y="240.0" width="1.5" height="1.5"/><rect x="547.5" y="262.6" width="1.5" height="1.5"/><rect x="556.2" y="259.7" width="1.5" height="1.5"/><rect x="544.8" y="236.3" width="1.5" height="1.5"/><rect x="547.8" y="246.7" width="1.5" height="1.5"/><rect x="552.4" y="237.5" width="1.5" height="1.5"/><rect x="551.3" y="236.6" width="1.5" height="1.5"/><rect x="545.4" y="253.9" width="1.5" height="1.5"/><rect x="578.8" y="128.5" width="1.5" height="1.5"/><rect x="576.4" y="125.6" width="1.5" height="1.5"/><rect x="574.1" y="123.1" width="1.5" height="1.5"/><rect x="581.5" y="132.5" width="1.5" height="1.5"/><rect x="572.3" y="118.8" width="1.5" height="1.5"/><rect x="582.3" y="128.4" width="1.5" height="1.5"/><rect x="581.8" y="120.6" width="1.5" height="1.5"/><rect x="577.1" y="121.5" width="1.5" height="1.5"/><rect x="598.6" y="123.2" width="1.5" height="1.5"/><rect x="596.6" y="131.4" width="1.5" height="1.5"/><rect x="592.4" y="125.6" width="1.5" height="1.5"/><rect x="597.8" y="130.5" width="1.5" height="1.5"/><rect x="593.7" y="123.2" width="1.5" height="1.5"/><rect x="589.5" y="129.9" width="1.5" height="1.5"/><rect x="572.0" y="254.8" width="1.5" height="1.5"/><rect x="578.9" y="260.6" width="1.5" height="1.5"/><rect x="580.7" y="257.9" width="1.5" height="1.5"/><rect x="581.9" y="254.7" width="1.5" height="1.5"/><rect x="573.9" y="263.2" width="1.5" height="1.5"/><rect x="572.0" y="258.0" width="1.5" height="1.5"/><rect x="581.2" y="263.7" width="1.5" height="1.5"/><rect x="574.9" y="255.6" width="1.5" height="1.5"/><rect x="576.0" y="264.1" width="1.5" height="1.5"/><rect x="576.1" y="255.3" width="1.5" height="1.5"/><rect x="581.0" y="261.9" width="1.5" height="1.5"/><rect x="584.0" y="267.3" width="1.5" height="1.5"/><rect x="583.9" y="259.9" width="1.5" height="1.5"/><rect x="582.3" y="258.0" width="1.5" height="1.5"/><rect x="575.4" y="259.4" width="1.5" height="1.5"/><rect x="584.2" y="266.6" width="1.5" height="1.5"/><rect x="574.4" y="258.8" width="1.5" height="1.5"/><rect x="576.1" y="258.9" width="1.5" height="1.5"/><rect x="576.5" y="259.2" width="1.5" height="1.5"/><rect x="573.6" y="261.8" width="1.5" height="1.5"/><rect x="598.3" y="260.5" width="1.5" height="1.5"/><rect x="598.8" y="260.7" width="1.5" height="1.5"/><rect x="590.4" y="263.0" width="1.5" height="1.5"/><rect x="599.3" y="257.5" width="1.5" height="1.5"/><rect x="588.4" y="260.2" width="1.5" height="1.5"/><rect x="595.1" y="260.8" width="1.5" height="1.5"/><rect x="600.4" y="261.7" width="1.5" height="1.5"/><rect x="598.4" y="255.0" width="1.5" height="1.5"/><rect x="595.1" y="263.3" width="1.5" height="1.5"/><rect x="589.2" y="255.2" width="1.5" height="1.5"/><rect x="597.5" y="264.6" width="1.5" height="1.5"/><rect x="589.2" y="261.5" width="1.5" height="1.5"/><rect x="590.0" y="262.8" width="1.5" height="1.5"/><rect x="596.4" y="257.1" width="1.5" height="1.5"/><rect x="590.9" y="263.1" width="1.5" height="1.5"/><rect x="621.0" y="127.5" width="1.5" height="1.5"/><rect x="619.4" y="115.0" width="1.5" height="1.5"/><rect x="626.6" y="124.8" width="1.5" height="1.5"/><rect x="620.6" y="120.8" width="1.5" height="1.5"/><rect x="623.5" y="125.9" width="1.5" height="1.5"/><rect x="626.0" y="117.1" width="1.5" height="1.5"/><rect x="624.8" y="124.7" width="1.5" height="1.5"/><rect x="625.2" y="128.7" width="1.5" height="1.5"/><rect x="624.9" y="131.2" width="1.5" height="1.5"/><rect x="626.5" y="123.9" width="1.5" height="1.5"/><rect x="637.0" y="127.2" width="1.5" height="1.5"/><rect x="640.5" y="120.0" width="1.5" height="1.5"/><rect x="635.8" y="113.2" width="1.5" height="1.5"/><rect x="639.7" y="134.2" width="1.5" height="1.5"/><rect x="635.2" y="113.7" width="1.5" height="1.5"/><rect x="633.1" y="120.1" width="1.5" height="1.5"/><rect x="634.2" y="133.7" width="1.5" height="1.5"/><rect x="631.3" y="117.2" width="1.5" height="1.5"/><rect x="632.0" y="125.7" width="1.5" height="1.5"/><rect x="625.2" y="246.1" width="1.5" height="1.5"/><rect x="615.7" y="254.1" width="1.5" height="1.5"/><rect x="622.6" y="266.9" width="1.5" height="1.5"/><rect x="615.3" y="244.1" width="1.5" height="1.5"/><rect x="617.3" y="247.2" width="1.5" height="1.5"/><rect x="618.0" y="261.4" width="1.5" height="1.5"/><rect x="622.8" y="247.4" width="1.5" height="1.5"/><rect x="617.3" y="249.0" width="1.5" height="1.5"/><rect x="617.1" y="262.6" width="1.5" height="1.5"/><rect x="619.0" y="256.6" width="1.5" height="1.5"/><rect x="625.7" y="254.7" width="1.5" height="1.5"/><rect x="618.3" y="266.3" width="1.5" height="1.5"/><rect x="627.0" y="250.8" width="1.5" height="1.5"/><rect x="622.1" y="268.2" width="1.5" height="1.5"/><rect x="621.3" y="247.3" width="1.5" height="1.5"/><rect x="615.5" y="268.0" width="1.5" height="1.5"/><rect x="625.5" y="252.0" width="1.5" height="1.5"/><rect x="621.9" y="255.7" width="1.5" height="1.5"/><rect x="618.5" y="269.2" width="1.5" height="1.5"/><rect x="623.6" y="247.8" width="1.5" height="1.5"/><rect x="615.0" y="254.5" width="1.5" height="1.5"/><rect x="619.8" y="263.7" width="1.5" height="1.5"/><rect x="624.3" y="258.3" width="1.5" height="1.5"/><rect x="616.9" y="245.5" width="1.5" height="1.5"/><rect x="635.5" y="256.5" width="1.5" height="1.5"/><rect x="642.5" y="263.6" width="1.5" height="1.5"/><rect x="639.5" y="276.8" width="1.5" height="1.5"/><rect x="634.8" y="264.1" width="1.5" height="1.5"/><rect x="633.3" y="270.6" width="1.5" height="1.5"/><rect x="631.4" y="272.0" width="1.5" height="1.5"/><rect x="642.2" y="272.0" width="1.5" height="1.5"/><rect x="632.4" y="256.8" width="1.5" height="1.5"/><rect x="640.5" y="252.0" width="1.5" height="1.5"/><rect x="637.5" y="262.3" width="1.5" height="1.5"/><rect x="643.6" y="265.5" width="1.5" height="1.5"/><rect x="642.3" y="257.7" width="1.5" height="1.5"/><rect x="641.5" y="260.9" width="1.5" height="1.5"/><rect x="643.1" y="251.9" width="1.5" height="1.5"/><rect x="641.9" y="255.1" width="1.5" height="1.5"/><rect x="638.3" y="263.9" width="1.5" height="1.5"/><rect x="633.4" y="272.3" width="1.5" height="1.5"/><rect x="635.3" y="257.9" width="1.5" height="1.5"/><rect x="632.3" y="257.8" width="1.5" height="1.5"/><rect x="637.3" y="269.1" width="1.5" height="1.5"/><rect x="662.9" y="149.9" width="1.5" height="1.5"/><rect x="659.6" y="149.4" width="1.5" height="1.5"/><rect x="680.4" y="150.3" width="1.5" height="1.5"/><rect x="685.4" y="149.7" width="1.5" height="1.5"/><rect x="674.3" y="149.1" width="1.5" height="1.5"/><rect x="667.9" y="281.6" width="1.5" height="1.5"/><rect x="665.9" y="282.2" width="1.5" height="1.5"/><rect x="658.7" y="283.8" width="1.5" height="1.5"/><rect x="669.0" y="281.5" width="1.5" height="1.5"/><rect x="666.6" y="281.7" width="1.5" height="1.5"/><rect x="679.5" y="283.4" width="1.5" height="1.5"/><rect x="678.4" y="283.2" width="1.5" height="1.5"/><rect x="679.7" y="283.5" width="1.5" height="1.5"/><rect x="491.2" y="282.7" width="1.5" height="1.5"/><rect x="506.4" y="283.1" width="1.5" height="1.5"/><rect x="513.2" y="283.7" width="1.5" height="1.5"/><rect x="506.1" y="283.1" width="1.5" height="1.5"/><rect x="509.4" y="282.5" width="1.5" height="1.5"/><rect x="487.5" y="282.5" width="1.5" height="1.5"/><rect x="504.6" y="284.0" width="1.5" height="1.5"/><rect x="488.7" y="283.3" width="1.5" height="1.5"/><rect x="509.7" y="283.7" width="1.5" height="1.5"/><rect x="485.8" y="282.8" width="1.5" height="1.5"/><rect x="488.0" y="282.6" width="1.5" height="1.5"/><rect x="496.0" y="282.4" width="1.5" height="1.5"/><rect x="686.4" y="283.6" width="1.5" height="1.5"/><rect x="673.3" y="284.0" width="1.5" height="1.5"/><rect x="681.5" y="284.4" width="1.5" height="1.5"/><rect x="669.3" y="283.4" width="1.5" height="1.5"/><rect x="670.1" y="282.8" width="1.5" height="1.5"/><rect x="669.8" y="284.1" width="1.5" height="1.5"/><rect x="688.4" y="284.3" width="1.5" height="1.5"/><rect x="678.1" y="284.0" width="1.5" height="1.5"/><rect x="657.5" y="283.4" width="1.5" height="1.5"/><rect x="667.9" y="284.1" width="1.5" height="1.5"/><rect x="660.4" y="283.5" width="1.5" height="1.5"/><rect x="673.2" y="284.3" width="1.5" height="1.5"/><rect x="683.4" y="284.0" width="1.5" height="1.5"/><rect x="662.0" y="284.3" width="1.5" height="1.5"/></g><g transform="matrix(0.9 0 0 1 1.535 0)"><text x="15.35" y="11.3" text-anchor="middle" font-size="15.6" font-weight="bold" fill="#000" font-family="Liberation Serif, serif">A</text></g><g transform="matrix(0.9 0 0 1 41.020 0)"><text x="410.2" y="11.1" text-anchor="middle" font-size="15.6" font-weight="bold" fill="#000" font-family="Liberation Serif, serif">B</text></g></svg></body></html>
